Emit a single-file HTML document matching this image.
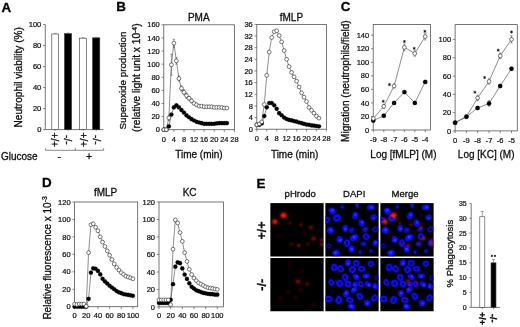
<!DOCTYPE html>
<html><head><meta charset="utf-8"><title>Figure</title>
<style>
html,body{margin:0;padding:0;background:#fff;}
body{width:520px;height:327px;overflow:hidden;font-family:"Liberation Sans",sans-serif;}
svg{display:block;}
</style></head><body>
<svg width="520" height="327" viewBox="0 0 520 327" font-family="Liberation Sans, sans-serif">
<defs><filter id="soft" x="0" y="0" width="100%" height="100%" filterUnits="userSpaceOnUse"><feGaussianBlur stdDeviation="0.35"/></filter></defs>
<rect width="520" height="327" fill="#fff"/>
<g filter="url(#soft)">
<text x="1.50" y="11.60" font-size="13.4" text-anchor="start" font-weight="bold" fill="#000" stroke="#000" stroke-width="0.3" >A</text>
<line x1="45.30" y1="24.50" x2="45.30" y2="129.60" stroke="#555" stroke-width="0.8"/>
<line x1="45.30" y1="129.60" x2="103.50" y2="129.60" stroke="#555" stroke-width="0.8"/>
<line x1="43.10" y1="129.60" x2="45.30" y2="129.60" stroke="#555" stroke-width="0.7"/>
<text x="41.30" y="132.20" font-size="7.5" text-anchor="end" font-weight="normal" fill="#111" stroke="#111" stroke-width="0.22" >0</text>
<line x1="43.10" y1="108.58" x2="45.30" y2="108.58" stroke="#555" stroke-width="0.7"/>
<text x="41.30" y="111.18" font-size="7.5" text-anchor="end" font-weight="normal" fill="#111" stroke="#111" stroke-width="0.22" >20</text>
<line x1="43.10" y1="87.56" x2="45.30" y2="87.56" stroke="#555" stroke-width="0.7"/>
<text x="41.30" y="90.16" font-size="7.5" text-anchor="end" font-weight="normal" fill="#111" stroke="#111" stroke-width="0.22" >40</text>
<line x1="43.10" y1="66.54" x2="45.30" y2="66.54" stroke="#555" stroke-width="0.7"/>
<text x="41.30" y="69.14" font-size="7.5" text-anchor="end" font-weight="normal" fill="#111" stroke="#111" stroke-width="0.22" >60</text>
<line x1="43.10" y1="45.52" x2="45.30" y2="45.52" stroke="#555" stroke-width="0.7"/>
<text x="41.30" y="48.12" font-size="7.5" text-anchor="end" font-weight="normal" fill="#111" stroke="#111" stroke-width="0.22" >80</text>
<line x1="43.10" y1="24.50" x2="45.30" y2="24.50" stroke="#555" stroke-width="0.7"/>
<text x="41.30" y="27.10" font-size="7.5" text-anchor="end" font-weight="normal" fill="#111" stroke="#111" stroke-width="0.22" >100</text>
<rect x="51.8" y="33.96" width="6.70" height="95.64" fill="#fff" stroke="#333" stroke-width="0.6"/>
<line x1="53.65" y1="33.36" x2="56.65" y2="33.36" stroke="#555" stroke-width="0.5"/>
<rect x="64.5" y="33.64" width="7.10" height="95.96" fill="#000" stroke="#333" stroke-width="0.6"/>
<line x1="66.55" y1="33.04" x2="69.55" y2="33.04" stroke="#555" stroke-width="0.5"/>
<rect x="79.6" y="38.16" width="7.00" height="91.44" fill="#fff" stroke="#333" stroke-width="0.6"/>
<line x1="81.60" y1="37.56" x2="84.60" y2="37.56" stroke="#555" stroke-width="0.5"/>
<rect x="92.6" y="37.85" width="7.20" height="91.75" fill="#000" stroke="#333" stroke-width="0.6"/>
<line x1="94.70" y1="37.25" x2="97.70" y2="37.25" stroke="#555" stroke-width="0.5"/>
<line x1="55.10" y1="129.60" x2="55.10" y2="130.90" stroke="#555" stroke-width="0.6"/>
<line x1="68.00" y1="129.60" x2="68.00" y2="130.90" stroke="#555" stroke-width="0.6"/>
<line x1="83.10" y1="129.60" x2="83.10" y2="130.90" stroke="#555" stroke-width="0.6"/>
<line x1="96.20" y1="129.60" x2="96.20" y2="130.90" stroke="#555" stroke-width="0.6"/>
<text x="51.40" y="139.80" font-size="10" text-anchor="middle" font-weight="normal" fill="#111" stroke="#111" stroke-width="0.3" transform="rotate(90 51.40 139.80)" stroke="#111" stroke-width="0.25">+/+</text>
<text x="64.20" y="139.80" font-size="10" text-anchor="middle" font-weight="normal" fill="#111" stroke="#111" stroke-width="0.3" transform="rotate(90 64.20 139.80)" stroke="#111" stroke-width="0.25">-/-</text>
<text x="79.60" y="139.80" font-size="10" text-anchor="middle" font-weight="normal" fill="#111" stroke="#111" stroke-width="0.3" transform="rotate(90 79.60 139.80)" stroke="#111" stroke-width="0.25">+/+</text>
<text x="93.10" y="139.80" font-size="10" text-anchor="middle" font-weight="normal" fill="#111" stroke="#111" stroke-width="0.3" transform="rotate(90 93.10 139.80)" stroke="#111" stroke-width="0.25">-/-</text>
<line x1="45.60" y1="150.30" x2="103.60" y2="150.30" stroke="#555" stroke-width="0.7"/>
<line x1="45.60" y1="148.20" x2="45.60" y2="150.30" stroke="#555" stroke-width="0.7"/>
<line x1="75.30" y1="148.20" x2="75.30" y2="150.30" stroke="#555" stroke-width="0.7"/>
<line x1="103.60" y1="148.20" x2="103.60" y2="150.30" stroke="#555" stroke-width="0.7"/>
<text x="1.00" y="159.50" font-size="10" text-anchor="start" font-weight="normal" fill="#111" stroke="#111" stroke-width="0.3" >Glucose</text>
<text x="59.20" y="159.50" font-size="10.5" text-anchor="middle" font-weight="normal" fill="#111" stroke="#111" stroke-width="0.3" >-</text>
<text x="89.10" y="160.00" font-size="10.5" text-anchor="middle" font-weight="normal" fill="#111" stroke="#111" stroke-width="0.3" >+</text>
<text x="21.60" y="127.50" font-size="10.1" text-anchor="start" font-weight="normal" fill="#111" stroke="#111" stroke-width="0.3" transform="rotate(-90 21.60 127.50)" >Neutrophil viability (%)</text>
<text x="116.30" y="11.20" font-size="13.4" text-anchor="start" font-weight="bold" fill="#000" stroke="#000" stroke-width="0.3" >B</text>
<rect x="163.8" y="24.8" width="70.60" height="104.90" fill="none" stroke="#555" stroke-width="0.8"/>
<text x="198.80" y="20.60" font-size="10" text-anchor="middle" font-weight="normal" fill="#111" stroke="#111" stroke-width="0.3" >PMA</text>
<line x1="161.60" y1="129.70" x2="163.80" y2="129.70" stroke="#555" stroke-width="0.7"/>
<text x="159.80" y="132.30" font-size="7.5" text-anchor="end" font-weight="normal" fill="#111" stroke="#111" stroke-width="0.22" >0</text>
<line x1="161.60" y1="116.59" x2="163.80" y2="116.59" stroke="#555" stroke-width="0.7"/>
<text x="159.80" y="119.19" font-size="7.5" text-anchor="end" font-weight="normal" fill="#111" stroke="#111" stroke-width="0.22" >20</text>
<line x1="161.60" y1="103.47" x2="163.80" y2="103.47" stroke="#555" stroke-width="0.7"/>
<text x="159.80" y="106.07" font-size="7.5" text-anchor="end" font-weight="normal" fill="#111" stroke="#111" stroke-width="0.22" >40</text>
<line x1="161.60" y1="90.36" x2="163.80" y2="90.36" stroke="#555" stroke-width="0.7"/>
<text x="159.80" y="92.96" font-size="7.5" text-anchor="end" font-weight="normal" fill="#111" stroke="#111" stroke-width="0.22" >60</text>
<line x1="161.60" y1="77.25" x2="163.80" y2="77.25" stroke="#555" stroke-width="0.7"/>
<text x="159.80" y="79.85" font-size="7.5" text-anchor="end" font-weight="normal" fill="#111" stroke="#111" stroke-width="0.22" >80</text>
<line x1="161.60" y1="64.14" x2="163.80" y2="64.14" stroke="#555" stroke-width="0.7"/>
<text x="159.80" y="66.74" font-size="7.5" text-anchor="end" font-weight="normal" fill="#111" stroke="#111" stroke-width="0.22" >100</text>
<line x1="161.60" y1="51.03" x2="163.80" y2="51.03" stroke="#555" stroke-width="0.7"/>
<text x="159.80" y="53.63" font-size="7.5" text-anchor="end" font-weight="normal" fill="#111" stroke="#111" stroke-width="0.22" >120</text>
<line x1="161.60" y1="37.91" x2="163.80" y2="37.91" stroke="#555" stroke-width="0.7"/>
<text x="159.80" y="40.51" font-size="7.5" text-anchor="end" font-weight="normal" fill="#111" stroke="#111" stroke-width="0.22" >140</text>
<line x1="161.60" y1="24.80" x2="163.80" y2="24.80" stroke="#555" stroke-width="0.7"/>
<text x="159.80" y="27.40" font-size="7.5" text-anchor="end" font-weight="normal" fill="#111" stroke="#111" stroke-width="0.22" >160</text>
<line x1="163.80" y1="129.70" x2="163.80" y2="131.90" stroke="#555" stroke-width="0.7"/>
<text x="163.80" y="141.70" font-size="7.5" text-anchor="middle" font-weight="normal" fill="#111" stroke="#111" stroke-width="0.22" >0</text>
<line x1="173.89" y1="129.70" x2="173.89" y2="131.90" stroke="#555" stroke-width="0.7"/>
<text x="173.89" y="141.70" font-size="7.5" text-anchor="middle" font-weight="normal" fill="#111" stroke="#111" stroke-width="0.22" >4</text>
<line x1="183.97" y1="129.70" x2="183.97" y2="131.90" stroke="#555" stroke-width="0.7"/>
<text x="183.97" y="141.70" font-size="7.5" text-anchor="middle" font-weight="normal" fill="#111" stroke="#111" stroke-width="0.22" >8</text>
<line x1="194.06" y1="129.70" x2="194.06" y2="131.90" stroke="#555" stroke-width="0.7"/>
<text x="194.06" y="141.70" font-size="7.5" text-anchor="middle" font-weight="normal" fill="#111" stroke="#111" stroke-width="0.22" >12</text>
<line x1="204.14" y1="129.70" x2="204.14" y2="131.90" stroke="#555" stroke-width="0.7"/>
<text x="204.14" y="141.70" font-size="7.5" text-anchor="middle" font-weight="normal" fill="#111" stroke="#111" stroke-width="0.22" >16</text>
<line x1="214.23" y1="129.70" x2="214.23" y2="131.90" stroke="#555" stroke-width="0.7"/>
<text x="214.23" y="141.70" font-size="7.5" text-anchor="middle" font-weight="normal" fill="#111" stroke="#111" stroke-width="0.22" >20</text>
<line x1="224.31" y1="129.70" x2="224.31" y2="131.90" stroke="#555" stroke-width="0.7"/>
<text x="224.31" y="141.70" font-size="7.5" text-anchor="middle" font-weight="normal" fill="#111" stroke="#111" stroke-width="0.22" >24</text>
<line x1="234.40" y1="129.70" x2="234.40" y2="131.90" stroke="#555" stroke-width="0.7"/>
<text x="234.40" y="141.70" font-size="7.5" text-anchor="middle" font-weight="normal" fill="#111" stroke="#111" stroke-width="0.22" >28</text>
<text x="198.90" y="158.10" font-size="10" text-anchor="middle" font-weight="normal" fill="#111" stroke="#111" stroke-width="0.3" >Time (min)</text>
<line x1="168.84" y1="115.28" x2="168.84" y2="120.52" stroke="#444" stroke-width="0.5"/>
<line x1="167.64" y1="115.28" x2="170.04" y2="115.28" stroke="#444" stroke-width="0.5"/>
<line x1="167.64" y1="120.52" x2="170.04" y2="120.52" stroke="#444" stroke-width="0.5"/>
<line x1="171.36" y1="54.30" x2="171.36" y2="75.28" stroke="#444" stroke-width="0.5"/>
<line x1="170.16" y1="54.30" x2="172.56" y2="54.30" stroke="#444" stroke-width="0.5"/>
<line x1="170.16" y1="75.28" x2="172.56" y2="75.28" stroke="#444" stroke-width="0.5"/>
<line x1="173.89" y1="39.22" x2="173.89" y2="47.09" stroke="#444" stroke-width="0.5"/>
<line x1="172.69" y1="39.22" x2="175.09" y2="39.22" stroke="#444" stroke-width="0.5"/>
<line x1="172.69" y1="47.09" x2="175.09" y2="47.09" stroke="#444" stroke-width="0.5"/>
<line x1="176.41" y1="57.58" x2="176.41" y2="64.14" stroke="#444" stroke-width="0.5"/>
<line x1="175.21" y1="57.58" x2="177.61" y2="57.58" stroke="#444" stroke-width="0.5"/>
<line x1="175.21" y1="64.14" x2="177.61" y2="64.14" stroke="#444" stroke-width="0.5"/>
<line x1="178.93" y1="75.94" x2="178.93" y2="81.18" stroke="#444" stroke-width="0.5"/>
<line x1="177.73" y1="75.94" x2="180.13" y2="75.94" stroke="#444" stroke-width="0.5"/>
<line x1="177.73" y1="81.18" x2="180.13" y2="81.18" stroke="#444" stroke-width="0.5"/>
<line x1="181.45" y1="85.77" x2="181.45" y2="91.02" stroke="#444" stroke-width="0.5"/>
<line x1="180.25" y1="85.77" x2="182.65" y2="85.77" stroke="#444" stroke-width="0.5"/>
<line x1="180.25" y1="91.02" x2="182.65" y2="91.02" stroke="#444" stroke-width="0.5"/>
<line x1="183.97" y1="89.71" x2="183.97" y2="94.95" stroke="#444" stroke-width="0.5"/>
<line x1="182.77" y1="89.71" x2="185.17" y2="89.71" stroke="#444" stroke-width="0.5"/>
<line x1="182.77" y1="94.95" x2="185.17" y2="94.95" stroke="#444" stroke-width="0.5"/>
<line x1="186.49" y1="92.98" x2="186.49" y2="98.23" stroke="#444" stroke-width="0.5"/>
<line x1="185.29" y1="92.98" x2="187.69" y2="92.98" stroke="#444" stroke-width="0.5"/>
<line x1="185.29" y1="98.23" x2="187.69" y2="98.23" stroke="#444" stroke-width="0.5"/>
<line x1="189.01" y1="96.26" x2="189.01" y2="100.20" stroke="#444" stroke-width="0.5"/>
<line x1="187.81" y1="96.26" x2="190.21" y2="96.26" stroke="#444" stroke-width="0.5"/>
<line x1="187.81" y1="100.20" x2="190.21" y2="100.20" stroke="#444" stroke-width="0.5"/>
<line x1="191.54" y1="98.89" x2="191.54" y2="102.82" stroke="#444" stroke-width="0.5"/>
<line x1="190.34" y1="98.89" x2="192.74" y2="98.89" stroke="#444" stroke-width="0.5"/>
<line x1="190.34" y1="102.82" x2="192.74" y2="102.82" stroke="#444" stroke-width="0.5"/>
<polyline fill="none" stroke="#444" stroke-width="0.6" points="163.80,129.70 166.32,129.70 168.84,126.42 171.36,114.62 173.89,107.41 176.41,105.44 178.93,107.41 181.45,110.03 183.97,112.65 186.49,115.28 189.01,117.24 191.54,119.21 194.06,120.52 196.58,121.83 199.10,122.49 201.62,123.14 204.14,123.80 206.66,123.80 209.19,123.80 211.71,123.80 214.23,123.80 216.75,123.47 219.27,123.14 221.79,123.14 224.31,123.14 226.84,123.14"/>
<polyline fill="none" stroke="#444" stroke-width="0.6" points="163.80,129.70 166.32,129.70 168.84,117.90 171.36,64.79 173.89,43.16 176.41,60.86 178.93,78.56 181.45,88.40 183.97,92.33 186.49,95.61 189.01,98.23 191.54,100.85 194.06,103.47 196.58,104.79 199.10,106.10 201.62,106.10 204.14,106.75 206.66,106.75 209.19,106.75 211.71,106.75 214.23,107.41 216.75,107.41 219.27,107.41 221.79,107.41 224.31,108.06 226.84,108.06"/>
<circle cx="163.80" cy="129.70" r="2.1" fill="#000" stroke="#222" stroke-width="0.2"/>
<circle cx="166.32" cy="129.70" r="2.1" fill="#000" stroke="#222" stroke-width="0.2"/>
<circle cx="168.84" cy="126.42" r="2.1" fill="#000" stroke="#222" stroke-width="0.2"/>
<circle cx="171.36" cy="114.62" r="2.1" fill="#000" stroke="#222" stroke-width="0.2"/>
<circle cx="173.89" cy="107.41" r="2.1" fill="#000" stroke="#222" stroke-width="0.2"/>
<circle cx="176.41" cy="105.44" r="2.1" fill="#000" stroke="#222" stroke-width="0.2"/>
<circle cx="178.93" cy="107.41" r="2.1" fill="#000" stroke="#222" stroke-width="0.2"/>
<circle cx="181.45" cy="110.03" r="2.1" fill="#000" stroke="#222" stroke-width="0.2"/>
<circle cx="183.97" cy="112.65" r="2.1" fill="#000" stroke="#222" stroke-width="0.2"/>
<circle cx="186.49" cy="115.28" r="2.1" fill="#000" stroke="#222" stroke-width="0.2"/>
<circle cx="189.01" cy="117.24" r="2.1" fill="#000" stroke="#222" stroke-width="0.2"/>
<circle cx="191.54" cy="119.21" r="2.1" fill="#000" stroke="#222" stroke-width="0.2"/>
<circle cx="194.06" cy="120.52" r="2.1" fill="#000" stroke="#222" stroke-width="0.2"/>
<circle cx="196.58" cy="121.83" r="2.1" fill="#000" stroke="#222" stroke-width="0.2"/>
<circle cx="199.10" cy="122.49" r="2.1" fill="#000" stroke="#222" stroke-width="0.2"/>
<circle cx="201.62" cy="123.14" r="2.1" fill="#000" stroke="#222" stroke-width="0.2"/>
<circle cx="204.14" cy="123.80" r="2.1" fill="#000" stroke="#222" stroke-width="0.2"/>
<circle cx="206.66" cy="123.80" r="2.1" fill="#000" stroke="#222" stroke-width="0.2"/>
<circle cx="209.19" cy="123.80" r="2.1" fill="#000" stroke="#222" stroke-width="0.2"/>
<circle cx="211.71" cy="123.80" r="2.1" fill="#000" stroke="#222" stroke-width="0.2"/>
<circle cx="214.23" cy="123.80" r="2.1" fill="#000" stroke="#222" stroke-width="0.2"/>
<circle cx="216.75" cy="123.47" r="2.1" fill="#000" stroke="#222" stroke-width="0.2"/>
<circle cx="219.27" cy="123.14" r="2.1" fill="#000" stroke="#222" stroke-width="0.2"/>
<circle cx="221.79" cy="123.14" r="2.1" fill="#000" stroke="#222" stroke-width="0.2"/>
<circle cx="224.31" cy="123.14" r="2.1" fill="#000" stroke="#222" stroke-width="0.2"/>
<circle cx="226.84" cy="123.14" r="2.1" fill="#000" stroke="#222" stroke-width="0.2"/>
<circle cx="163.80" cy="129.70" r="1.9" fill="#fff" stroke="#222" stroke-width="0.6"/>
<circle cx="166.32" cy="129.70" r="1.9" fill="#fff" stroke="#222" stroke-width="0.6"/>
<circle cx="168.84" cy="117.90" r="1.9" fill="#fff" stroke="#222" stroke-width="0.6"/>
<circle cx="171.36" cy="64.79" r="1.9" fill="#fff" stroke="#222" stroke-width="0.6"/>
<circle cx="173.89" cy="43.16" r="1.9" fill="#fff" stroke="#222" stroke-width="0.6"/>
<circle cx="176.41" cy="60.86" r="1.9" fill="#fff" stroke="#222" stroke-width="0.6"/>
<circle cx="178.93" cy="78.56" r="1.9" fill="#fff" stroke="#222" stroke-width="0.6"/>
<circle cx="181.45" cy="88.40" r="1.9" fill="#fff" stroke="#222" stroke-width="0.6"/>
<circle cx="183.97" cy="92.33" r="1.9" fill="#fff" stroke="#222" stroke-width="0.6"/>
<circle cx="186.49" cy="95.61" r="1.9" fill="#fff" stroke="#222" stroke-width="0.6"/>
<circle cx="189.01" cy="98.23" r="1.9" fill="#fff" stroke="#222" stroke-width="0.6"/>
<circle cx="191.54" cy="100.85" r="1.9" fill="#fff" stroke="#222" stroke-width="0.6"/>
<circle cx="194.06" cy="103.47" r="1.9" fill="#fff" stroke="#222" stroke-width="0.6"/>
<circle cx="196.58" cy="104.79" r="1.9" fill="#fff" stroke="#222" stroke-width="0.6"/>
<circle cx="199.10" cy="106.10" r="1.9" fill="#fff" stroke="#222" stroke-width="0.6"/>
<circle cx="201.62" cy="106.10" r="1.9" fill="#fff" stroke="#222" stroke-width="0.6"/>
<circle cx="204.14" cy="106.75" r="1.9" fill="#fff" stroke="#222" stroke-width="0.6"/>
<circle cx="206.66" cy="106.75" r="1.9" fill="#fff" stroke="#222" stroke-width="0.6"/>
<circle cx="209.19" cy="106.75" r="1.9" fill="#fff" stroke="#222" stroke-width="0.6"/>
<circle cx="211.71" cy="106.75" r="1.9" fill="#fff" stroke="#222" stroke-width="0.6"/>
<circle cx="214.23" cy="107.41" r="1.9" fill="#fff" stroke="#222" stroke-width="0.6"/>
<circle cx="216.75" cy="107.41" r="1.9" fill="#fff" stroke="#222" stroke-width="0.6"/>
<circle cx="219.27" cy="107.41" r="1.9" fill="#fff" stroke="#222" stroke-width="0.6"/>
<circle cx="221.79" cy="107.41" r="1.9" fill="#fff" stroke="#222" stroke-width="0.6"/>
<circle cx="224.31" cy="108.06" r="1.9" fill="#fff" stroke="#222" stroke-width="0.6"/>
<circle cx="226.84" cy="108.06" r="1.9" fill="#fff" stroke="#222" stroke-width="0.6"/>
<text x="125.80" y="129.60" font-size="9.8" text-anchor="start" font-weight="normal" fill="#111" stroke="#111" stroke-width="0.3" transform="rotate(-90 125.80 129.60)" >Superoxide production</text>
<text x="140.00" y="132.00" font-size="10.2" text-anchor="start" font-weight="normal" fill="#111" stroke="#111" stroke-width="0.3" transform="rotate(-90 140.00 132.00)" >(relative light unit x 10<tspan dy="-3.5" font-size="6.8">-4</tspan><tspan dy="3.5">)</tspan></text>
<rect x="256.8" y="24.4" width="69.60" height="104.80" fill="none" stroke="#555" stroke-width="0.8"/>
<text x="291.40" y="20.60" font-size="10" text-anchor="middle" font-weight="normal" fill="#111" stroke="#111" stroke-width="0.3" >fMLP</text>
<line x1="254.60" y1="129.20" x2="256.80" y2="129.20" stroke="#555" stroke-width="0.7"/>
<text x="252.80" y="131.80" font-size="7.5" text-anchor="end" font-weight="normal" fill="#111" stroke="#111" stroke-width="0.22" >0</text>
<line x1="254.60" y1="117.56" x2="256.80" y2="117.56" stroke="#555" stroke-width="0.7"/>
<text x="252.80" y="120.16" font-size="7.5" text-anchor="end" font-weight="normal" fill="#111" stroke="#111" stroke-width="0.22" >4</text>
<line x1="254.60" y1="105.91" x2="256.80" y2="105.91" stroke="#555" stroke-width="0.7"/>
<text x="252.80" y="108.51" font-size="7.5" text-anchor="end" font-weight="normal" fill="#111" stroke="#111" stroke-width="0.22" >8</text>
<line x1="254.60" y1="94.27" x2="256.80" y2="94.27" stroke="#555" stroke-width="0.7"/>
<text x="252.80" y="96.87" font-size="7.5" text-anchor="end" font-weight="normal" fill="#111" stroke="#111" stroke-width="0.22" >12</text>
<line x1="254.60" y1="82.62" x2="256.80" y2="82.62" stroke="#555" stroke-width="0.7"/>
<text x="252.80" y="85.22" font-size="7.5" text-anchor="end" font-weight="normal" fill="#111" stroke="#111" stroke-width="0.22" >16</text>
<line x1="254.60" y1="70.98" x2="256.80" y2="70.98" stroke="#555" stroke-width="0.7"/>
<text x="252.80" y="73.58" font-size="7.5" text-anchor="end" font-weight="normal" fill="#111" stroke="#111" stroke-width="0.22" >20</text>
<line x1="254.60" y1="59.33" x2="256.80" y2="59.33" stroke="#555" stroke-width="0.7"/>
<text x="252.80" y="61.93" font-size="7.5" text-anchor="end" font-weight="normal" fill="#111" stroke="#111" stroke-width="0.22" >24</text>
<line x1="254.60" y1="47.69" x2="256.80" y2="47.69" stroke="#555" stroke-width="0.7"/>
<text x="252.80" y="50.29" font-size="7.5" text-anchor="end" font-weight="normal" fill="#111" stroke="#111" stroke-width="0.22" >28</text>
<line x1="254.60" y1="36.04" x2="256.80" y2="36.04" stroke="#555" stroke-width="0.7"/>
<text x="252.80" y="38.64" font-size="7.5" text-anchor="end" font-weight="normal" fill="#111" stroke="#111" stroke-width="0.22" >32</text>
<line x1="254.60" y1="24.40" x2="256.80" y2="24.40" stroke="#555" stroke-width="0.7"/>
<text x="252.80" y="27.00" font-size="7.5" text-anchor="end" font-weight="normal" fill="#111" stroke="#111" stroke-width="0.22" >36</text>
<line x1="256.80" y1="129.20" x2="256.80" y2="131.40" stroke="#555" stroke-width="0.7"/>
<text x="256.80" y="141.20" font-size="7.5" text-anchor="middle" font-weight="normal" fill="#111" stroke="#111" stroke-width="0.22" >0</text>
<line x1="266.74" y1="129.20" x2="266.74" y2="131.40" stroke="#555" stroke-width="0.7"/>
<text x="266.74" y="141.20" font-size="7.5" text-anchor="middle" font-weight="normal" fill="#111" stroke="#111" stroke-width="0.22" >4</text>
<line x1="276.69" y1="129.20" x2="276.69" y2="131.40" stroke="#555" stroke-width="0.7"/>
<text x="276.69" y="141.20" font-size="7.5" text-anchor="middle" font-weight="normal" fill="#111" stroke="#111" stroke-width="0.22" >8</text>
<line x1="286.63" y1="129.20" x2="286.63" y2="131.40" stroke="#555" stroke-width="0.7"/>
<text x="286.63" y="141.20" font-size="7.5" text-anchor="middle" font-weight="normal" fill="#111" stroke="#111" stroke-width="0.22" >12</text>
<line x1="296.57" y1="129.20" x2="296.57" y2="131.40" stroke="#555" stroke-width="0.7"/>
<text x="296.57" y="141.20" font-size="7.5" text-anchor="middle" font-weight="normal" fill="#111" stroke="#111" stroke-width="0.22" >16</text>
<line x1="306.51" y1="129.20" x2="306.51" y2="131.40" stroke="#555" stroke-width="0.7"/>
<text x="306.51" y="141.20" font-size="7.5" text-anchor="middle" font-weight="normal" fill="#111" stroke="#111" stroke-width="0.22" >20</text>
<line x1="316.46" y1="129.20" x2="316.46" y2="131.40" stroke="#555" stroke-width="0.7"/>
<text x="316.46" y="141.20" font-size="7.5" text-anchor="middle" font-weight="normal" fill="#111" stroke="#111" stroke-width="0.22" >24</text>
<line x1="326.40" y1="129.20" x2="326.40" y2="131.40" stroke="#555" stroke-width="0.7"/>
<text x="326.40" y="141.20" font-size="7.5" text-anchor="middle" font-weight="normal" fill="#111" stroke="#111" stroke-width="0.22" >28</text>
<text x="294.60" y="158.10" font-size="10" text-anchor="middle" font-weight="normal" fill="#111" stroke="#111" stroke-width="0.3" >Time (min)</text>
<polyline fill="none" stroke="#444" stroke-width="0.6" points="256.80,124.83 259.29,124.83 261.77,123.38 264.26,116.10 266.74,107.37 269.23,103.00 271.71,103.00 274.20,105.33 276.69,108.82 279.17,113.19 281.66,115.23 284.14,117.56 286.63,119.01 289.11,119.88 291.60,120.47 294.09,121.05 296.57,121.63 299.06,122.50 301.54,123.09 304.03,123.96 306.51,124.54 309.00,124.83 311.49,125.42 313.97,125.71 316.46,126.00 318.94,126.29"/>
<polyline fill="none" stroke="#444" stroke-width="0.6" points="256.80,124.83 259.29,123.96 261.77,121.92 264.26,104.46 266.74,75.34 269.23,52.06 271.71,37.50 274.20,31.68 276.69,30.80 279.17,35.46 281.66,41.87 284.14,50.60 286.63,59.33 289.11,66.61 291.60,72.43 294.09,76.80 296.57,81.17 299.06,86.99 301.54,92.81 304.03,97.18 306.51,101.54 309.00,107.37 311.49,110.28 313.97,113.19 316.46,116.10 318.94,118.14"/>
<circle cx="256.80" cy="124.83" r="2.1" fill="#000" stroke="#222" stroke-width="0.2"/>
<circle cx="259.29" cy="124.83" r="2.1" fill="#000" stroke="#222" stroke-width="0.2"/>
<circle cx="261.77" cy="123.38" r="2.1" fill="#000" stroke="#222" stroke-width="0.2"/>
<circle cx="264.26" cy="116.10" r="2.1" fill="#000" stroke="#222" stroke-width="0.2"/>
<circle cx="266.74" cy="107.37" r="2.1" fill="#000" stroke="#222" stroke-width="0.2"/>
<circle cx="269.23" cy="103.00" r="2.1" fill="#000" stroke="#222" stroke-width="0.2"/>
<circle cx="271.71" cy="103.00" r="2.1" fill="#000" stroke="#222" stroke-width="0.2"/>
<circle cx="274.20" cy="105.33" r="2.1" fill="#000" stroke="#222" stroke-width="0.2"/>
<circle cx="276.69" cy="108.82" r="2.1" fill="#000" stroke="#222" stroke-width="0.2"/>
<circle cx="279.17" cy="113.19" r="2.1" fill="#000" stroke="#222" stroke-width="0.2"/>
<circle cx="281.66" cy="115.23" r="2.1" fill="#000" stroke="#222" stroke-width="0.2"/>
<circle cx="284.14" cy="117.56" r="2.1" fill="#000" stroke="#222" stroke-width="0.2"/>
<circle cx="286.63" cy="119.01" r="2.1" fill="#000" stroke="#222" stroke-width="0.2"/>
<circle cx="289.11" cy="119.88" r="2.1" fill="#000" stroke="#222" stroke-width="0.2"/>
<circle cx="291.60" cy="120.47" r="2.1" fill="#000" stroke="#222" stroke-width="0.2"/>
<circle cx="294.09" cy="121.05" r="2.1" fill="#000" stroke="#222" stroke-width="0.2"/>
<circle cx="296.57" cy="121.63" r="2.1" fill="#000" stroke="#222" stroke-width="0.2"/>
<circle cx="299.06" cy="122.50" r="2.1" fill="#000" stroke="#222" stroke-width="0.2"/>
<circle cx="301.54" cy="123.09" r="2.1" fill="#000" stroke="#222" stroke-width="0.2"/>
<circle cx="304.03" cy="123.96" r="2.1" fill="#000" stroke="#222" stroke-width="0.2"/>
<circle cx="306.51" cy="124.54" r="2.1" fill="#000" stroke="#222" stroke-width="0.2"/>
<circle cx="309.00" cy="124.83" r="2.1" fill="#000" stroke="#222" stroke-width="0.2"/>
<circle cx="311.49" cy="125.42" r="2.1" fill="#000" stroke="#222" stroke-width="0.2"/>
<circle cx="313.97" cy="125.71" r="2.1" fill="#000" stroke="#222" stroke-width="0.2"/>
<circle cx="316.46" cy="126.00" r="2.1" fill="#000" stroke="#222" stroke-width="0.2"/>
<circle cx="318.94" cy="126.29" r="2.1" fill="#000" stroke="#222" stroke-width="0.2"/>
<circle cx="256.80" cy="124.83" r="1.9" fill="#fff" stroke="#222" stroke-width="0.6"/>
<circle cx="259.29" cy="123.96" r="1.9" fill="#fff" stroke="#222" stroke-width="0.6"/>
<circle cx="261.77" cy="121.92" r="1.9" fill="#fff" stroke="#222" stroke-width="0.6"/>
<circle cx="264.26" cy="104.46" r="1.9" fill="#fff" stroke="#222" stroke-width="0.6"/>
<circle cx="266.74" cy="75.34" r="1.9" fill="#fff" stroke="#222" stroke-width="0.6"/>
<circle cx="269.23" cy="52.06" r="1.9" fill="#fff" stroke="#222" stroke-width="0.6"/>
<circle cx="271.71" cy="37.50" r="1.9" fill="#fff" stroke="#222" stroke-width="0.6"/>
<circle cx="274.20" cy="31.68" r="1.9" fill="#fff" stroke="#222" stroke-width="0.6"/>
<circle cx="276.69" cy="30.80" r="1.9" fill="#fff" stroke="#222" stroke-width="0.6"/>
<circle cx="279.17" cy="35.46" r="1.9" fill="#fff" stroke="#222" stroke-width="0.6"/>
<circle cx="281.66" cy="41.87" r="1.9" fill="#fff" stroke="#222" stroke-width="0.6"/>
<circle cx="284.14" cy="50.60" r="1.9" fill="#fff" stroke="#222" stroke-width="0.6"/>
<circle cx="286.63" cy="59.33" r="1.9" fill="#fff" stroke="#222" stroke-width="0.6"/>
<circle cx="289.11" cy="66.61" r="1.9" fill="#fff" stroke="#222" stroke-width="0.6"/>
<circle cx="291.60" cy="72.43" r="1.9" fill="#fff" stroke="#222" stroke-width="0.6"/>
<circle cx="294.09" cy="76.80" r="1.9" fill="#fff" stroke="#222" stroke-width="0.6"/>
<circle cx="296.57" cy="81.17" r="1.9" fill="#fff" stroke="#222" stroke-width="0.6"/>
<circle cx="299.06" cy="86.99" r="1.9" fill="#fff" stroke="#222" stroke-width="0.6"/>
<circle cx="301.54" cy="92.81" r="1.9" fill="#fff" stroke="#222" stroke-width="0.6"/>
<circle cx="304.03" cy="97.18" r="1.9" fill="#fff" stroke="#222" stroke-width="0.6"/>
<circle cx="306.51" cy="101.54" r="1.9" fill="#fff" stroke="#222" stroke-width="0.6"/>
<circle cx="309.00" cy="107.37" r="1.9" fill="#fff" stroke="#222" stroke-width="0.6"/>
<circle cx="311.49" cy="110.28" r="1.9" fill="#fff" stroke="#222" stroke-width="0.6"/>
<circle cx="313.97" cy="113.19" r="1.9" fill="#fff" stroke="#222" stroke-width="0.6"/>
<circle cx="316.46" cy="116.10" r="1.9" fill="#fff" stroke="#222" stroke-width="0.6"/>
<circle cx="318.94" cy="118.14" r="1.9" fill="#fff" stroke="#222" stroke-width="0.6"/>
<text x="340.80" y="10.80" font-size="13.4" text-anchor="start" font-weight="bold" fill="#000" stroke="#000" stroke-width="0.3" >C</text>
<rect x="373.2" y="24.5" width="57.20" height="105.50" fill="none" stroke="#555" stroke-width="0.8"/>
<line x1="371.00" y1="130.00" x2="373.20" y2="130.00" stroke="#555" stroke-width="0.7"/>
<text x="369.20" y="132.60" font-size="7.5" text-anchor="end" font-weight="normal" fill="#111" stroke="#111" stroke-width="0.22" >0</text>
<line x1="371.00" y1="116.46" x2="373.20" y2="116.46" stroke="#555" stroke-width="0.7"/>
<text x="369.20" y="119.06" font-size="7.5" text-anchor="end" font-weight="normal" fill="#111" stroke="#111" stroke-width="0.22" >20</text>
<line x1="371.00" y1="102.91" x2="373.20" y2="102.91" stroke="#555" stroke-width="0.7"/>
<text x="369.20" y="105.51" font-size="7.5" text-anchor="end" font-weight="normal" fill="#111" stroke="#111" stroke-width="0.22" >40</text>
<line x1="371.00" y1="89.37" x2="373.20" y2="89.37" stroke="#555" stroke-width="0.7"/>
<text x="369.20" y="91.97" font-size="7.5" text-anchor="end" font-weight="normal" fill="#111" stroke="#111" stroke-width="0.22" >60</text>
<line x1="371.00" y1="75.83" x2="373.20" y2="75.83" stroke="#555" stroke-width="0.7"/>
<text x="369.20" y="78.43" font-size="7.5" text-anchor="end" font-weight="normal" fill="#111" stroke="#111" stroke-width="0.22" >80</text>
<line x1="371.00" y1="62.29" x2="373.20" y2="62.29" stroke="#555" stroke-width="0.7"/>
<text x="369.20" y="64.89" font-size="7.5" text-anchor="end" font-weight="normal" fill="#111" stroke="#111" stroke-width="0.22" >100</text>
<line x1="371.00" y1="48.74" x2="373.20" y2="48.74" stroke="#555" stroke-width="0.7"/>
<text x="369.20" y="51.34" font-size="7.5" text-anchor="end" font-weight="normal" fill="#111" stroke="#111" stroke-width="0.22" >120</text>
<line x1="371.00" y1="35.20" x2="373.20" y2="35.20" stroke="#555" stroke-width="0.7"/>
<text x="369.20" y="37.80" font-size="7.5" text-anchor="end" font-weight="normal" fill="#111" stroke="#111" stroke-width="0.22" >140</text>
<line x1="373.30" y1="130.00" x2="373.30" y2="132.20" stroke="#555" stroke-width="0.7"/>
<text x="373.30" y="142.00" font-size="7.5" text-anchor="middle" font-weight="normal" fill="#111" stroke="#111" stroke-width="0.22" >-9</text>
<line x1="383.80" y1="130.00" x2="383.80" y2="132.20" stroke="#555" stroke-width="0.7"/>
<text x="383.80" y="142.00" font-size="7.5" text-anchor="middle" font-weight="normal" fill="#111" stroke="#111" stroke-width="0.22" >-8</text>
<line x1="394.10" y1="130.00" x2="394.10" y2="132.20" stroke="#555" stroke-width="0.7"/>
<text x="394.10" y="142.00" font-size="7.5" text-anchor="middle" font-weight="normal" fill="#111" stroke="#111" stroke-width="0.22" >-7</text>
<line x1="404.40" y1="130.00" x2="404.40" y2="132.20" stroke="#555" stroke-width="0.7"/>
<text x="404.40" y="142.00" font-size="7.5" text-anchor="middle" font-weight="normal" fill="#111" stroke="#111" stroke-width="0.22" >-6</text>
<line x1="414.80" y1="130.00" x2="414.80" y2="132.20" stroke="#555" stroke-width="0.7"/>
<text x="414.80" y="142.00" font-size="7.5" text-anchor="middle" font-weight="normal" fill="#111" stroke="#111" stroke-width="0.22" >-5</text>
<line x1="425.20" y1="130.00" x2="425.20" y2="132.20" stroke="#555" stroke-width="0.7"/>
<text x="425.20" y="142.00" font-size="7.5" text-anchor="middle" font-weight="normal" fill="#111" stroke="#111" stroke-width="0.22" >-4</text>
<text x="403.40" y="157.80" font-size="10" text-anchor="middle" font-weight="normal" fill="#111" stroke="#111" stroke-width="0.3" >Log [fMLP] (M)</text>
<line x1="383.80" y1="104.27" x2="383.80" y2="108.33" stroke="#444" stroke-width="0.5"/>
<line x1="382.60" y1="104.27" x2="385.00" y2="104.27" stroke="#444" stroke-width="0.5"/>
<line x1="382.60" y1="108.33" x2="385.00" y2="108.33" stroke="#444" stroke-width="0.5"/>
<line x1="394.10" y1="83.95" x2="394.10" y2="88.02" stroke="#444" stroke-width="0.5"/>
<line x1="392.90" y1="83.95" x2="395.30" y2="83.95" stroke="#444" stroke-width="0.5"/>
<line x1="392.90" y1="88.02" x2="395.30" y2="88.02" stroke="#444" stroke-width="0.5"/>
<line x1="404.40" y1="44.00" x2="404.40" y2="50.77" stroke="#444" stroke-width="0.5"/>
<line x1="403.20" y1="44.00" x2="405.60" y2="44.00" stroke="#444" stroke-width="0.5"/>
<line x1="403.20" y1="50.77" x2="405.60" y2="50.77" stroke="#444" stroke-width="0.5"/>
<line x1="414.80" y1="50.77" x2="414.80" y2="56.19" stroke="#444" stroke-width="0.5"/>
<line x1="413.60" y1="50.77" x2="416.00" y2="50.77" stroke="#444" stroke-width="0.5"/>
<line x1="413.60" y1="56.19" x2="416.00" y2="56.19" stroke="#444" stroke-width="0.5"/>
<line x1="425.20" y1="33.17" x2="425.20" y2="39.94" stroke="#444" stroke-width="0.5"/>
<line x1="424.00" y1="33.17" x2="426.40" y2="33.17" stroke="#444" stroke-width="0.5"/>
<line x1="424.00" y1="39.94" x2="426.40" y2="39.94" stroke="#444" stroke-width="0.5"/>
<polyline fill="none" stroke="#444" stroke-width="0.6" points="373.30,120.52 383.80,115.78 394.10,102.91 404.40,92.08 414.80,102.91 425.20,81.92"/>
<polyline fill="none" stroke="#444" stroke-width="0.6" points="373.30,118.49 383.80,106.30 394.10,85.99 404.40,47.39 414.80,53.48 425.20,36.55"/>
<circle cx="373.30" cy="120.52" r="2.2" fill="#000" stroke="#222" stroke-width="0.2"/>
<circle cx="383.80" cy="115.78" r="2.2" fill="#000" stroke="#222" stroke-width="0.2"/>
<circle cx="394.10" cy="102.91" r="2.2" fill="#000" stroke="#222" stroke-width="0.2"/>
<circle cx="404.40" cy="92.08" r="2.2" fill="#000" stroke="#222" stroke-width="0.2"/>
<circle cx="414.80" cy="102.91" r="2.2" fill="#000" stroke="#222" stroke-width="0.2"/>
<circle cx="425.20" cy="81.92" r="2.2" fill="#000" stroke="#222" stroke-width="0.2"/>
<circle cx="373.30" cy="118.49" r="1.9" fill="#fff" stroke="#222" stroke-width="0.6"/>
<circle cx="383.80" cy="106.30" r="1.9" fill="#fff" stroke="#222" stroke-width="0.6"/>
<circle cx="394.10" cy="85.99" r="1.9" fill="#fff" stroke="#222" stroke-width="0.6"/>
<circle cx="404.40" cy="47.39" r="1.9" fill="#fff" stroke="#222" stroke-width="0.6"/>
<circle cx="414.80" cy="53.48" r="1.9" fill="#fff" stroke="#222" stroke-width="0.6"/>
<circle cx="425.20" cy="36.55" r="1.9" fill="#fff" stroke="#222" stroke-width="0.6"/>
<line x1="383.20" y1="99.80" x2="383.20" y2="102.80" stroke="#111" stroke-width="0.8"/>
<line x1="381.90" y1="100.55" x2="384.50" y2="102.05" stroke="#111" stroke-width="0.8"/>
<line x1="384.50" y1="100.55" x2="381.90" y2="102.05" stroke="#111" stroke-width="0.8"/>
<line x1="389.40" y1="83.09" x2="389.40" y2="86.09" stroke="#111" stroke-width="0.8"/>
<line x1="388.10" y1="83.84" x2="390.70" y2="85.34" stroke="#111" stroke-width="0.8"/>
<line x1="390.70" y1="83.84" x2="388.10" y2="85.34" stroke="#111" stroke-width="0.8"/>
<line x1="404.40" y1="39.99" x2="404.40" y2="42.99" stroke="#111" stroke-width="0.8"/>
<line x1="403.10" y1="40.74" x2="405.70" y2="42.24" stroke="#111" stroke-width="0.8"/>
<line x1="405.70" y1="40.74" x2="403.10" y2="42.24" stroke="#111" stroke-width="0.8"/>
<line x1="414.20" y1="46.88" x2="414.20" y2="49.88" stroke="#111" stroke-width="0.8"/>
<line x1="412.90" y1="47.63" x2="415.50" y2="49.13" stroke="#111" stroke-width="0.8"/>
<line x1="415.50" y1="47.63" x2="412.90" y2="49.13" stroke="#111" stroke-width="0.8"/>
<line x1="424.90" y1="29.75" x2="424.90" y2="32.75" stroke="#111" stroke-width="0.8"/>
<line x1="423.60" y1="30.50" x2="426.20" y2="32.00" stroke="#111" stroke-width="0.8"/>
<line x1="426.20" y1="30.50" x2="423.60" y2="32.00" stroke="#111" stroke-width="0.8"/>
<text x="348.60" y="142.00" font-size="10.1" text-anchor="start" font-weight="normal" fill="#111" stroke="#111" stroke-width="0.3" transform="rotate(-90 348.60 142.00)" >Migration (neutrophils/field)</text>
<rect x="455.1" y="24.6" width="62.20" height="106.30" fill="none" stroke="#555" stroke-width="0.8"/>
<line x1="452.90" y1="130.90" x2="455.10" y2="130.90" stroke="#555" stroke-width="0.7"/>
<text x="451.10" y="133.50" font-size="7.5" text-anchor="end" font-weight="normal" fill="#111" stroke="#111" stroke-width="0.22" >0</text>
<line x1="452.90" y1="112.60" x2="455.10" y2="112.60" stroke="#555" stroke-width="0.7"/>
<text x="451.10" y="115.20" font-size="7.5" text-anchor="end" font-weight="normal" fill="#111" stroke="#111" stroke-width="0.22" >20</text>
<line x1="452.90" y1="94.30" x2="455.10" y2="94.30" stroke="#555" stroke-width="0.7"/>
<text x="451.10" y="96.90" font-size="7.5" text-anchor="end" font-weight="normal" fill="#111" stroke="#111" stroke-width="0.22" >40</text>
<line x1="452.90" y1="76.00" x2="455.10" y2="76.00" stroke="#555" stroke-width="0.7"/>
<text x="451.10" y="78.60" font-size="7.5" text-anchor="end" font-weight="normal" fill="#111" stroke="#111" stroke-width="0.22" >60</text>
<line x1="452.90" y1="57.70" x2="455.10" y2="57.70" stroke="#555" stroke-width="0.7"/>
<text x="451.10" y="60.30" font-size="7.5" text-anchor="end" font-weight="normal" fill="#111" stroke="#111" stroke-width="0.22" >80</text>
<line x1="452.90" y1="39.40" x2="455.10" y2="39.40" stroke="#555" stroke-width="0.7"/>
<text x="451.10" y="42.00" font-size="7.5" text-anchor="end" font-weight="normal" fill="#111" stroke="#111" stroke-width="0.22" >100</text>
<line x1="455.10" y1="130.90" x2="455.10" y2="133.10" stroke="#555" stroke-width="0.7"/>
<text x="455.10" y="142.90" font-size="7.5" text-anchor="middle" font-weight="normal" fill="#111" stroke="#111" stroke-width="0.22" >0</text>
<line x1="466.40" y1="130.90" x2="466.40" y2="133.10" stroke="#555" stroke-width="0.7"/>
<text x="466.40" y="142.90" font-size="7.5" text-anchor="middle" font-weight="normal" fill="#111" stroke="#111" stroke-width="0.22" >-9</text>
<line x1="477.60" y1="130.90" x2="477.60" y2="133.10" stroke="#555" stroke-width="0.7"/>
<text x="477.60" y="142.90" font-size="7.5" text-anchor="middle" font-weight="normal" fill="#111" stroke="#111" stroke-width="0.22" >-8</text>
<line x1="489.00" y1="130.90" x2="489.00" y2="133.10" stroke="#555" stroke-width="0.7"/>
<text x="489.00" y="142.90" font-size="7.5" text-anchor="middle" font-weight="normal" fill="#111" stroke="#111" stroke-width="0.22" >-7</text>
<line x1="500.20" y1="130.90" x2="500.20" y2="133.10" stroke="#555" stroke-width="0.7"/>
<text x="500.20" y="142.90" font-size="7.5" text-anchor="middle" font-weight="normal" fill="#111" stroke="#111" stroke-width="0.22" >-6</text>
<line x1="511.50" y1="130.90" x2="511.50" y2="133.10" stroke="#555" stroke-width="0.7"/>
<text x="511.50" y="142.90" font-size="7.5" text-anchor="middle" font-weight="normal" fill="#111" stroke="#111" stroke-width="0.22" >-5</text>
<text x="486.20" y="158.20" font-size="10" text-anchor="middle" font-weight="normal" fill="#111" stroke="#111" stroke-width="0.3" >Log [KC] (M)</text>
<line x1="477.60" y1="95.22" x2="477.60" y2="100.71" stroke="#444" stroke-width="0.5"/>
<line x1="476.40" y1="95.22" x2="478.80" y2="95.22" stroke="#444" stroke-width="0.5"/>
<line x1="476.40" y1="100.71" x2="478.80" y2="100.71" stroke="#444" stroke-width="0.5"/>
<line x1="489.00" y1="78.75" x2="489.00" y2="84.24" stroke="#444" stroke-width="0.5"/>
<line x1="487.80" y1="78.75" x2="490.20" y2="78.75" stroke="#444" stroke-width="0.5"/>
<line x1="487.80" y1="84.24" x2="490.20" y2="84.24" stroke="#444" stroke-width="0.5"/>
<line x1="500.20" y1="53.13" x2="500.20" y2="58.62" stroke="#444" stroke-width="0.5"/>
<line x1="499.00" y1="53.13" x2="501.40" y2="53.13" stroke="#444" stroke-width="0.5"/>
<line x1="499.00" y1="58.62" x2="501.40" y2="58.62" stroke="#444" stroke-width="0.5"/>
<line x1="511.50" y1="35.74" x2="511.50" y2="43.06" stroke="#444" stroke-width="0.5"/>
<line x1="510.30" y1="35.74" x2="512.70" y2="35.74" stroke="#444" stroke-width="0.5"/>
<line x1="510.30" y1="43.06" x2="512.70" y2="43.06" stroke="#444" stroke-width="0.5"/>
<line x1="455.10" y1="120.84" x2="455.10" y2="124.50" stroke="#444" stroke-width="0.5"/>
<line x1="453.90" y1="120.84" x2="456.30" y2="120.84" stroke="#444" stroke-width="0.5"/>
<line x1="453.90" y1="124.50" x2="456.30" y2="124.50" stroke="#444" stroke-width="0.5"/>
<line x1="489.00" y1="100.70" x2="489.00" y2="106.20" stroke="#444" stroke-width="0.5"/>
<line x1="487.80" y1="100.70" x2="490.20" y2="100.70" stroke="#444" stroke-width="0.5"/>
<line x1="487.80" y1="106.20" x2="490.20" y2="106.20" stroke="#444" stroke-width="0.5"/>
<polyline fill="none" stroke="#444" stroke-width="0.6" points="455.10,122.67 466.40,116.72 477.60,108.03 489.00,103.45 500.20,86.06 511.50,68.68"/>
<polyline fill="none" stroke="#444" stroke-width="0.6" points="455.10,122.67 466.40,116.72 477.60,97.96 489.00,81.49 500.20,55.87 511.50,39.40"/>
<circle cx="477.60" cy="108.03" r="2.2" fill="#000" stroke="#222" stroke-width="0.2"/>
<circle cx="489.00" cy="103.45" r="2.2" fill="#000" stroke="#222" stroke-width="0.2"/>
<circle cx="500.20" cy="86.06" r="2.2" fill="#000" stroke="#222" stroke-width="0.2"/>
<circle cx="511.50" cy="68.68" r="2.2" fill="#000" stroke="#222" stroke-width="0.2"/>
<circle cx="455.10" cy="122.67" r="1.9" fill="#fff" stroke="#222" stroke-width="0.6"/>
<circle cx="466.40" cy="116.72" r="1.9" fill="#fff" stroke="#222" stroke-width="0.6"/>
<circle cx="477.60" cy="97.96" r="1.9" fill="#fff" stroke="#222" stroke-width="0.6"/>
<circle cx="489.00" cy="81.49" r="1.9" fill="#fff" stroke="#222" stroke-width="0.6"/>
<circle cx="500.20" cy="55.87" r="1.9" fill="#fff" stroke="#222" stroke-width="0.6"/>
<circle cx="511.50" cy="39.40" r="1.9" fill="#fff" stroke="#222" stroke-width="0.6"/>
<circle cx="455.10" cy="122.67" r="2.2" fill="#000" stroke="#222" stroke-width="0.2"/>
<circle cx="466.40" cy="116.72" r="2.2" fill="#000" stroke="#222" stroke-width="0.2"/>
<line x1="474.90" y1="90.76" x2="474.90" y2="93.76" stroke="#111" stroke-width="0.8"/>
<line x1="473.60" y1="91.51" x2="476.20" y2="93.01" stroke="#111" stroke-width="0.8"/>
<line x1="476.20" y1="91.51" x2="473.60" y2="93.01" stroke="#111" stroke-width="0.8"/>
<line x1="484.60" y1="75.99" x2="484.60" y2="78.99" stroke="#111" stroke-width="0.8"/>
<line x1="483.30" y1="76.74" x2="485.90" y2="78.24" stroke="#111" stroke-width="0.8"/>
<line x1="485.90" y1="76.74" x2="483.30" y2="78.24" stroke="#111" stroke-width="0.8"/>
<line x1="498.20" y1="48.67" x2="498.20" y2="51.67" stroke="#111" stroke-width="0.8"/>
<line x1="496.90" y1="49.42" x2="499.50" y2="50.92" stroke="#111" stroke-width="0.8"/>
<line x1="499.50" y1="49.42" x2="496.90" y2="50.92" stroke="#111" stroke-width="0.8"/>
<line x1="511.50" y1="30.50" x2="511.50" y2="33.50" stroke="#111" stroke-width="0.8"/>
<line x1="510.20" y1="31.25" x2="512.80" y2="32.75" stroke="#111" stroke-width="0.8"/>
<line x1="512.80" y1="31.25" x2="510.20" y2="32.75" stroke="#111" stroke-width="0.8"/>
<text x="42.00" y="187.20" font-size="13.4" text-anchor="start" font-weight="bold" fill="#000" stroke="#000" stroke-width="0.3" >D</text>
<rect x="74.6" y="202" width="63.10" height="104.70" fill="none" stroke="#555" stroke-width="0.8"/>
<text x="105.60" y="195.80" font-size="10" text-anchor="middle" font-weight="normal" fill="#111" stroke="#111" stroke-width="0.3" >fMLP</text>
<line x1="72.40" y1="306.70" x2="74.60" y2="306.70" stroke="#555" stroke-width="0.7"/>
<text x="70.60" y="309.30" font-size="7.5" text-anchor="end" font-weight="normal" fill="#111" stroke="#111" stroke-width="0.22" >0</text>
<line x1="72.40" y1="289.25" x2="74.60" y2="289.25" stroke="#555" stroke-width="0.7"/>
<text x="70.60" y="291.85" font-size="7.5" text-anchor="end" font-weight="normal" fill="#111" stroke="#111" stroke-width="0.22" >20</text>
<line x1="72.40" y1="271.80" x2="74.60" y2="271.80" stroke="#555" stroke-width="0.7"/>
<text x="70.60" y="274.40" font-size="7.5" text-anchor="end" font-weight="normal" fill="#111" stroke="#111" stroke-width="0.22" >40</text>
<line x1="72.40" y1="254.35" x2="74.60" y2="254.35" stroke="#555" stroke-width="0.7"/>
<text x="70.60" y="256.95" font-size="7.5" text-anchor="end" font-weight="normal" fill="#111" stroke="#111" stroke-width="0.22" >60</text>
<line x1="72.40" y1="236.90" x2="74.60" y2="236.90" stroke="#555" stroke-width="0.7"/>
<text x="70.60" y="239.50" font-size="7.5" text-anchor="end" font-weight="normal" fill="#111" stroke="#111" stroke-width="0.22" >80</text>
<line x1="72.40" y1="219.45" x2="74.60" y2="219.45" stroke="#555" stroke-width="0.7"/>
<text x="70.60" y="222.05" font-size="7.5" text-anchor="end" font-weight="normal" fill="#111" stroke="#111" stroke-width="0.22" >100</text>
<line x1="72.40" y1="202.00" x2="74.60" y2="202.00" stroke="#555" stroke-width="0.7"/>
<text x="70.60" y="204.60" font-size="7.5" text-anchor="end" font-weight="normal" fill="#111" stroke="#111" stroke-width="0.22" >120</text>
<line x1="74.60" y1="306.70" x2="74.60" y2="308.90" stroke="#555" stroke-width="0.7"/>
<text x="74.60" y="318.20" font-size="7.5" text-anchor="middle" font-weight="normal" fill="#111" stroke="#111" stroke-width="0.22" >0</text>
<line x1="86.26" y1="306.70" x2="86.26" y2="308.90" stroke="#555" stroke-width="0.7"/>
<text x="86.26" y="318.20" font-size="7.5" text-anchor="middle" font-weight="normal" fill="#111" stroke="#111" stroke-width="0.22" >20</text>
<line x1="97.92" y1="306.70" x2="97.92" y2="308.90" stroke="#555" stroke-width="0.7"/>
<text x="97.92" y="318.20" font-size="7.5" text-anchor="middle" font-weight="normal" fill="#111" stroke="#111" stroke-width="0.22" >40</text>
<line x1="109.58" y1="306.70" x2="109.58" y2="308.90" stroke="#555" stroke-width="0.7"/>
<text x="109.58" y="318.20" font-size="7.5" text-anchor="middle" font-weight="normal" fill="#111" stroke="#111" stroke-width="0.22" >60</text>
<line x1="121.24" y1="306.70" x2="121.24" y2="308.90" stroke="#555" stroke-width="0.7"/>
<text x="121.24" y="318.20" font-size="7.5" text-anchor="middle" font-weight="normal" fill="#111" stroke="#111" stroke-width="0.22" >80</text>
<line x1="132.90" y1="306.70" x2="132.90" y2="308.90" stroke="#555" stroke-width="0.7"/>
<text x="132.90" y="318.20" font-size="7.5" text-anchor="middle" font-weight="normal" fill="#111" stroke="#111" stroke-width="0.22" >100</text>
<polyline fill="none" stroke="#444" stroke-width="0.6" points="74.60,306.70 76.93,306.70 79.26,306.70 81.60,306.70 83.93,306.70 86.26,306.70 88.59,298.85 90.92,272.67 93.26,268.31 95.59,268.75 97.92,270.93 100.25,274.42 102.58,278.78 104.92,281.40 107.25,283.58 109.58,285.76 111.91,287.50 114.24,289.25 116.58,291.00 118.91,292.30 121.24,293.18 123.57,294.05 125.90,294.49 128.24,294.92 130.57,295.36 132.90,295.79"/>
<polyline fill="none" stroke="#444" stroke-width="0.6" points="74.60,304.08 76.93,304.52 79.26,304.08 81.60,304.08 83.93,304.08 86.26,306.26 88.59,252.60 90.92,224.69 93.26,223.81 95.59,227.30 97.92,230.79 100.25,236.90 102.58,242.13 104.92,246.50 107.25,250.86 109.58,255.22 111.91,259.58 114.24,263.95 116.58,267.44 118.91,270.06 121.24,272.67 123.57,274.42 125.90,276.16 128.24,277.03 130.57,277.91 132.90,278.78"/>
<circle cx="74.60" cy="306.70" r="2.1" fill="#000" stroke="#222" stroke-width="0.2"/>
<circle cx="76.93" cy="306.70" r="2.1" fill="#000" stroke="#222" stroke-width="0.2"/>
<circle cx="79.26" cy="306.70" r="2.1" fill="#000" stroke="#222" stroke-width="0.2"/>
<circle cx="81.60" cy="306.70" r="2.1" fill="#000" stroke="#222" stroke-width="0.2"/>
<circle cx="83.93" cy="306.70" r="2.1" fill="#000" stroke="#222" stroke-width="0.2"/>
<circle cx="86.26" cy="306.70" r="2.1" fill="#000" stroke="#222" stroke-width="0.2"/>
<circle cx="88.59" cy="298.85" r="2.1" fill="#000" stroke="#222" stroke-width="0.2"/>
<circle cx="90.92" cy="272.67" r="2.1" fill="#000" stroke="#222" stroke-width="0.2"/>
<circle cx="93.26" cy="268.31" r="2.1" fill="#000" stroke="#222" stroke-width="0.2"/>
<circle cx="95.59" cy="268.75" r="2.1" fill="#000" stroke="#222" stroke-width="0.2"/>
<circle cx="97.92" cy="270.93" r="2.1" fill="#000" stroke="#222" stroke-width="0.2"/>
<circle cx="100.25" cy="274.42" r="2.1" fill="#000" stroke="#222" stroke-width="0.2"/>
<circle cx="102.58" cy="278.78" r="2.1" fill="#000" stroke="#222" stroke-width="0.2"/>
<circle cx="104.92" cy="281.40" r="2.1" fill="#000" stroke="#222" stroke-width="0.2"/>
<circle cx="107.25" cy="283.58" r="2.1" fill="#000" stroke="#222" stroke-width="0.2"/>
<circle cx="109.58" cy="285.76" r="2.1" fill="#000" stroke="#222" stroke-width="0.2"/>
<circle cx="111.91" cy="287.50" r="2.1" fill="#000" stroke="#222" stroke-width="0.2"/>
<circle cx="114.24" cy="289.25" r="2.1" fill="#000" stroke="#222" stroke-width="0.2"/>
<circle cx="116.58" cy="291.00" r="2.1" fill="#000" stroke="#222" stroke-width="0.2"/>
<circle cx="118.91" cy="292.30" r="2.1" fill="#000" stroke="#222" stroke-width="0.2"/>
<circle cx="121.24" cy="293.18" r="2.1" fill="#000" stroke="#222" stroke-width="0.2"/>
<circle cx="123.57" cy="294.05" r="2.1" fill="#000" stroke="#222" stroke-width="0.2"/>
<circle cx="125.90" cy="294.49" r="2.1" fill="#000" stroke="#222" stroke-width="0.2"/>
<circle cx="128.24" cy="294.92" r="2.1" fill="#000" stroke="#222" stroke-width="0.2"/>
<circle cx="130.57" cy="295.36" r="2.1" fill="#000" stroke="#222" stroke-width="0.2"/>
<circle cx="132.90" cy="295.79" r="2.1" fill="#000" stroke="#222" stroke-width="0.2"/>
<circle cx="74.60" cy="304.08" r="1.9" fill="#fff" stroke="#222" stroke-width="0.6"/>
<circle cx="76.93" cy="304.52" r="1.9" fill="#fff" stroke="#222" stroke-width="0.6"/>
<circle cx="79.26" cy="304.08" r="1.9" fill="#fff" stroke="#222" stroke-width="0.6"/>
<circle cx="81.60" cy="304.08" r="1.9" fill="#fff" stroke="#222" stroke-width="0.6"/>
<circle cx="83.93" cy="304.08" r="1.9" fill="#fff" stroke="#222" stroke-width="0.6"/>
<circle cx="86.26" cy="306.26" r="1.9" fill="#fff" stroke="#222" stroke-width="0.6"/>
<circle cx="88.59" cy="252.60" r="1.9" fill="#fff" stroke="#222" stroke-width="0.6"/>
<circle cx="90.92" cy="224.69" r="1.9" fill="#fff" stroke="#222" stroke-width="0.6"/>
<circle cx="93.26" cy="223.81" r="1.9" fill="#fff" stroke="#222" stroke-width="0.6"/>
<circle cx="95.59" cy="227.30" r="1.9" fill="#fff" stroke="#222" stroke-width="0.6"/>
<circle cx="97.92" cy="230.79" r="1.9" fill="#fff" stroke="#222" stroke-width="0.6"/>
<circle cx="100.25" cy="236.90" r="1.9" fill="#fff" stroke="#222" stroke-width="0.6"/>
<circle cx="102.58" cy="242.13" r="1.9" fill="#fff" stroke="#222" stroke-width="0.6"/>
<circle cx="104.92" cy="246.50" r="1.9" fill="#fff" stroke="#222" stroke-width="0.6"/>
<circle cx="107.25" cy="250.86" r="1.9" fill="#fff" stroke="#222" stroke-width="0.6"/>
<circle cx="109.58" cy="255.22" r="1.9" fill="#fff" stroke="#222" stroke-width="0.6"/>
<circle cx="111.91" cy="259.58" r="1.9" fill="#fff" stroke="#222" stroke-width="0.6"/>
<circle cx="114.24" cy="263.95" r="1.9" fill="#fff" stroke="#222" stroke-width="0.6"/>
<circle cx="116.58" cy="267.44" r="1.9" fill="#fff" stroke="#222" stroke-width="0.6"/>
<circle cx="118.91" cy="270.06" r="1.9" fill="#fff" stroke="#222" stroke-width="0.6"/>
<circle cx="121.24" cy="272.67" r="1.9" fill="#fff" stroke="#222" stroke-width="0.6"/>
<circle cx="123.57" cy="274.42" r="1.9" fill="#fff" stroke="#222" stroke-width="0.6"/>
<circle cx="125.90" cy="276.16" r="1.9" fill="#fff" stroke="#222" stroke-width="0.6"/>
<circle cx="128.24" cy="277.03" r="1.9" fill="#fff" stroke="#222" stroke-width="0.6"/>
<circle cx="130.57" cy="277.91" r="1.9" fill="#fff" stroke="#222" stroke-width="0.6"/>
<circle cx="132.90" cy="278.78" r="1.9" fill="#fff" stroke="#222" stroke-width="0.6"/>
<rect x="159" y="202" width="64.40" height="104.90" fill="none" stroke="#555" stroke-width="0.8"/>
<text x="189.60" y="195.80" font-size="10" text-anchor="middle" font-weight="normal" fill="#111" stroke="#111" stroke-width="0.3" >KC</text>
<line x1="156.80" y1="306.90" x2="159.00" y2="306.90" stroke="#555" stroke-width="0.7"/>
<text x="155.00" y="309.50" font-size="7.5" text-anchor="end" font-weight="normal" fill="#111" stroke="#111" stroke-width="0.22" >0</text>
<line x1="156.80" y1="289.42" x2="159.00" y2="289.42" stroke="#555" stroke-width="0.7"/>
<text x="155.00" y="292.02" font-size="7.5" text-anchor="end" font-weight="normal" fill="#111" stroke="#111" stroke-width="0.22" >20</text>
<line x1="156.80" y1="271.93" x2="159.00" y2="271.93" stroke="#555" stroke-width="0.7"/>
<text x="155.00" y="274.53" font-size="7.5" text-anchor="end" font-weight="normal" fill="#111" stroke="#111" stroke-width="0.22" >40</text>
<line x1="156.80" y1="254.45" x2="159.00" y2="254.45" stroke="#555" stroke-width="0.7"/>
<text x="155.00" y="257.05" font-size="7.5" text-anchor="end" font-weight="normal" fill="#111" stroke="#111" stroke-width="0.22" >60</text>
<line x1="156.80" y1="236.97" x2="159.00" y2="236.97" stroke="#555" stroke-width="0.7"/>
<text x="155.00" y="239.57" font-size="7.5" text-anchor="end" font-weight="normal" fill="#111" stroke="#111" stroke-width="0.22" >80</text>
<line x1="156.80" y1="219.48" x2="159.00" y2="219.48" stroke="#555" stroke-width="0.7"/>
<text x="155.00" y="222.08" font-size="7.5" text-anchor="end" font-weight="normal" fill="#111" stroke="#111" stroke-width="0.22" >100</text>
<line x1="156.80" y1="202.00" x2="159.00" y2="202.00" stroke="#555" stroke-width="0.7"/>
<text x="155.00" y="204.60" font-size="7.5" text-anchor="end" font-weight="normal" fill="#111" stroke="#111" stroke-width="0.22" >120</text>
<line x1="159.00" y1="306.90" x2="159.00" y2="309.10" stroke="#555" stroke-width="0.7"/>
<text x="159.00" y="318.40" font-size="7.5" text-anchor="middle" font-weight="normal" fill="#111" stroke="#111" stroke-width="0.22" >0</text>
<line x1="170.66" y1="306.90" x2="170.66" y2="309.10" stroke="#555" stroke-width="0.7"/>
<text x="170.66" y="318.40" font-size="7.5" text-anchor="middle" font-weight="normal" fill="#111" stroke="#111" stroke-width="0.22" >20</text>
<line x1="182.32" y1="306.90" x2="182.32" y2="309.10" stroke="#555" stroke-width="0.7"/>
<text x="182.32" y="318.40" font-size="7.5" text-anchor="middle" font-weight="normal" fill="#111" stroke="#111" stroke-width="0.22" >40</text>
<line x1="193.98" y1="306.90" x2="193.98" y2="309.10" stroke="#555" stroke-width="0.7"/>
<text x="193.98" y="318.40" font-size="7.5" text-anchor="middle" font-weight="normal" fill="#111" stroke="#111" stroke-width="0.22" >60</text>
<line x1="205.64" y1="306.90" x2="205.64" y2="309.10" stroke="#555" stroke-width="0.7"/>
<text x="205.64" y="318.40" font-size="7.5" text-anchor="middle" font-weight="normal" fill="#111" stroke="#111" stroke-width="0.22" >80</text>
<line x1="217.30" y1="306.90" x2="217.30" y2="309.10" stroke="#555" stroke-width="0.7"/>
<text x="217.30" y="318.40" font-size="7.5" text-anchor="middle" font-weight="normal" fill="#111" stroke="#111" stroke-width="0.22" >100</text>
<polyline fill="none" stroke="#444" stroke-width="0.6" points="159.00,302.97 161.33,302.97 163.66,302.97 166.00,302.97 168.33,302.97 170.66,299.91 172.99,284.17 175.32,266.69 177.66,262.32 179.99,263.19 182.32,268.44 184.65,274.56 186.98,278.93 189.32,283.30 191.65,286.79 193.98,288.54 196.31,290.29 198.64,291.16 200.98,292.04 203.31,292.91 205.64,293.35 207.97,293.79 210.30,294.22 212.64,294.22 214.97,294.66 217.30,294.66"/>
<polyline fill="none" stroke="#444" stroke-width="0.6" points="159.00,299.91 161.33,299.91 163.66,299.91 166.00,299.91 168.33,299.91 170.66,304.71 172.99,249.20 175.32,219.92 177.66,222.98 179.99,232.60 182.32,241.34 184.65,252.70 186.98,261.44 189.32,269.31 191.65,274.56 193.98,278.05 196.31,280.67 198.64,282.86 200.98,284.17 203.31,285.48 205.64,286.79 207.97,287.67 210.30,288.11 212.64,288.54 214.97,288.98 217.30,289.42"/>
<circle cx="159.00" cy="302.97" r="2.1" fill="#000" stroke="#222" stroke-width="0.2"/>
<circle cx="161.33" cy="302.97" r="2.1" fill="#000" stroke="#222" stroke-width="0.2"/>
<circle cx="163.66" cy="302.97" r="2.1" fill="#000" stroke="#222" stroke-width="0.2"/>
<circle cx="166.00" cy="302.97" r="2.1" fill="#000" stroke="#222" stroke-width="0.2"/>
<circle cx="168.33" cy="302.97" r="2.1" fill="#000" stroke="#222" stroke-width="0.2"/>
<circle cx="170.66" cy="299.91" r="2.1" fill="#000" stroke="#222" stroke-width="0.2"/>
<circle cx="172.99" cy="284.17" r="2.1" fill="#000" stroke="#222" stroke-width="0.2"/>
<circle cx="175.32" cy="266.69" r="2.1" fill="#000" stroke="#222" stroke-width="0.2"/>
<circle cx="177.66" cy="262.32" r="2.1" fill="#000" stroke="#222" stroke-width="0.2"/>
<circle cx="179.99" cy="263.19" r="2.1" fill="#000" stroke="#222" stroke-width="0.2"/>
<circle cx="182.32" cy="268.44" r="2.1" fill="#000" stroke="#222" stroke-width="0.2"/>
<circle cx="184.65" cy="274.56" r="2.1" fill="#000" stroke="#222" stroke-width="0.2"/>
<circle cx="186.98" cy="278.93" r="2.1" fill="#000" stroke="#222" stroke-width="0.2"/>
<circle cx="189.32" cy="283.30" r="2.1" fill="#000" stroke="#222" stroke-width="0.2"/>
<circle cx="191.65" cy="286.79" r="2.1" fill="#000" stroke="#222" stroke-width="0.2"/>
<circle cx="193.98" cy="288.54" r="2.1" fill="#000" stroke="#222" stroke-width="0.2"/>
<circle cx="196.31" cy="290.29" r="2.1" fill="#000" stroke="#222" stroke-width="0.2"/>
<circle cx="198.64" cy="291.16" r="2.1" fill="#000" stroke="#222" stroke-width="0.2"/>
<circle cx="200.98" cy="292.04" r="2.1" fill="#000" stroke="#222" stroke-width="0.2"/>
<circle cx="203.31" cy="292.91" r="2.1" fill="#000" stroke="#222" stroke-width="0.2"/>
<circle cx="205.64" cy="293.35" r="2.1" fill="#000" stroke="#222" stroke-width="0.2"/>
<circle cx="207.97" cy="293.79" r="2.1" fill="#000" stroke="#222" stroke-width="0.2"/>
<circle cx="210.30" cy="294.22" r="2.1" fill="#000" stroke="#222" stroke-width="0.2"/>
<circle cx="212.64" cy="294.22" r="2.1" fill="#000" stroke="#222" stroke-width="0.2"/>
<circle cx="214.97" cy="294.66" r="2.1" fill="#000" stroke="#222" stroke-width="0.2"/>
<circle cx="217.30" cy="294.66" r="2.1" fill="#000" stroke="#222" stroke-width="0.2"/>
<circle cx="159.00" cy="299.91" r="1.9" fill="#fff" stroke="#222" stroke-width="0.6"/>
<circle cx="161.33" cy="299.91" r="1.9" fill="#fff" stroke="#222" stroke-width="0.6"/>
<circle cx="163.66" cy="299.91" r="1.9" fill="#fff" stroke="#222" stroke-width="0.6"/>
<circle cx="166.00" cy="299.91" r="1.9" fill="#fff" stroke="#222" stroke-width="0.6"/>
<circle cx="168.33" cy="299.91" r="1.9" fill="#fff" stroke="#222" stroke-width="0.6"/>
<circle cx="170.66" cy="304.71" r="1.9" fill="#fff" stroke="#222" stroke-width="0.6"/>
<circle cx="172.99" cy="249.20" r="1.9" fill="#fff" stroke="#222" stroke-width="0.6"/>
<circle cx="175.32" cy="219.92" r="1.9" fill="#fff" stroke="#222" stroke-width="0.6"/>
<circle cx="177.66" cy="222.98" r="1.9" fill="#fff" stroke="#222" stroke-width="0.6"/>
<circle cx="179.99" cy="232.60" r="1.9" fill="#fff" stroke="#222" stroke-width="0.6"/>
<circle cx="182.32" cy="241.34" r="1.9" fill="#fff" stroke="#222" stroke-width="0.6"/>
<circle cx="184.65" cy="252.70" r="1.9" fill="#fff" stroke="#222" stroke-width="0.6"/>
<circle cx="186.98" cy="261.44" r="1.9" fill="#fff" stroke="#222" stroke-width="0.6"/>
<circle cx="189.32" cy="269.31" r="1.9" fill="#fff" stroke="#222" stroke-width="0.6"/>
<circle cx="191.65" cy="274.56" r="1.9" fill="#fff" stroke="#222" stroke-width="0.6"/>
<circle cx="193.98" cy="278.05" r="1.9" fill="#fff" stroke="#222" stroke-width="0.6"/>
<circle cx="196.31" cy="280.67" r="1.9" fill="#fff" stroke="#222" stroke-width="0.6"/>
<circle cx="198.64" cy="282.86" r="1.9" fill="#fff" stroke="#222" stroke-width="0.6"/>
<circle cx="200.98" cy="284.17" r="1.9" fill="#fff" stroke="#222" stroke-width="0.6"/>
<circle cx="203.31" cy="285.48" r="1.9" fill="#fff" stroke="#222" stroke-width="0.6"/>
<circle cx="205.64" cy="286.79" r="1.9" fill="#fff" stroke="#222" stroke-width="0.6"/>
<circle cx="207.97" cy="287.67" r="1.9" fill="#fff" stroke="#222" stroke-width="0.6"/>
<circle cx="210.30" cy="288.11" r="1.9" fill="#fff" stroke="#222" stroke-width="0.6"/>
<circle cx="212.64" cy="288.54" r="1.9" fill="#fff" stroke="#222" stroke-width="0.6"/>
<circle cx="214.97" cy="288.98" r="1.9" fill="#fff" stroke="#222" stroke-width="0.6"/>
<circle cx="217.30" cy="289.42" r="1.9" fill="#fff" stroke="#222" stroke-width="0.6"/>
<text x="51.00" y="319.60" font-size="10" text-anchor="start" font-weight="normal" fill="#111" stroke="#111" stroke-width="0.3" transform="rotate(-90 51.00 319.60)" >Relative fluorescence x 10<tspan dy="-3.5" font-size="6.8">-3</tspan></text>
<text x="256.50" y="187.80" font-size="13.4" text-anchor="start" font-weight="bold" fill="#000" stroke="#000" stroke-width="0.3" >E</text>
<text x="300.20" y="197.40" font-size="9.5" text-anchor="middle" font-weight="normal" fill="#111" stroke="#111" stroke-width="0.3" >pHrodo</text>
<text x="354.20" y="197.40" font-size="9.5" text-anchor="middle" font-weight="normal" fill="#111" stroke="#111" stroke-width="0.3" >DAPI</text>
<text x="405.00" y="197.40" font-size="9.5" text-anchor="middle" font-weight="normal" fill="#111" stroke="#111" stroke-width="0.3" >Merge</text>
<text x="265.80" y="230.50" font-size="12.5" text-anchor="middle" font-weight="bold" fill="#111" stroke="#111" stroke-width="0.3" transform="rotate(-90 265.80 230.50)" >+/+</text>
<text x="266.10" y="284.80" font-size="12.5" text-anchor="middle" font-weight="bold" fill="#111" stroke="#111" stroke-width="0.3" transform="rotate(-90 266.10 284.80)" >-/-</text>
<defs>
<filter id="bl1" x="-20%" y="-20%" width="140%" height="140%"><feGaussianBlur stdDeviation="0.8"/></filter>
<filter id="bl2" x="-20%" y="-20%" width="140%" height="140%"><feGaussianBlur stdDeviation="0.7"/></filter>
<clipPath id="cp"><rect x="0" y="0" width="53.6" height="53.6"/></clipPath>

<g id="r1" filter="url(#bl1)">
<ellipse cx="13.4" cy="12.3" rx="2.84" ry="2.29" fill="#ff2a10" fill-opacity="1.00"/>
<circle cx="13.4" cy="12.3" r="1.62" fill="#ff4028" fill-opacity="1"/>
<circle cx="13.4" cy="12.3" r="4.59" fill="#a00000" fill-opacity="0.22"/>
<ellipse cx="4.7" cy="18.7" rx="2.52" ry="2.04" fill="#ff2a10" fill-opacity="1.00"/>
<circle cx="4.7" cy="18.7" r="1.44" fill="#ff4028" fill-opacity="1"/>
<circle cx="4.7" cy="18.7" r="4.08" fill="#a00000" fill-opacity="0.22"/>
<ellipse cx="19.6" cy="19.9" rx="1.68" ry="1.36" fill="#ff2a10" fill-opacity="0.28"/>
<circle cx="19.6" cy="19.9" r="2.72" fill="#a00000" fill-opacity="0.06"/>
<ellipse cx="30.7" cy="21.7" rx="1.89" ry="1.53" fill="#ff2a10" fill-opacity="0.28"/>
<circle cx="30.7" cy="21.7" r="3.06" fill="#a00000" fill-opacity="0.06"/>
<ellipse cx="40.8" cy="24.4" rx="1.78" ry="1.44" fill="#ff2a10" fill-opacity="0.45"/>
<circle cx="40.8" cy="24.4" r="2.89" fill="#a00000" fill-opacity="0.10"/>
<ellipse cx="43.5" cy="35.4" rx="1.89" ry="1.53" fill="#ff2a10" fill-opacity="0.60"/>
<circle cx="43.5" cy="35.4" r="3.06" fill="#a00000" fill-opacity="0.13"/>
<ellipse cx="51.8" cy="36.9" rx="1.68" ry="1.36" fill="#ff2a10" fill-opacity="0.55"/>
<circle cx="51.8" cy="36.9" r="2.72" fill="#a00000" fill-opacity="0.12"/>
<ellipse cx="21.5" cy="40.9" rx="1.68" ry="1.36" fill="#ff2a10" fill-opacity="0.30"/>
<circle cx="21.5" cy="40.9" r="2.72" fill="#a00000" fill-opacity="0.07"/>
<ellipse cx="28.5" cy="42.4" rx="1.58" ry="1.27" fill="#ff2a10" fill-opacity="0.60"/>
<circle cx="28.5" cy="42.4" r="2.55" fill="#a00000" fill-opacity="0.13"/>
<ellipse cx="37.8" cy="40.9" rx="1.68" ry="1.36" fill="#ff2a10" fill-opacity="0.28"/>
<circle cx="37.8" cy="40.9" r="2.72" fill="#a00000" fill-opacity="0.06"/>
<ellipse cx="51.8" cy="41.4" rx="1.58" ry="1.27" fill="#ff2a10" fill-opacity="0.70"/>
<circle cx="51.8" cy="41.4" r="2.55" fill="#a00000" fill-opacity="0.15"/>
<ellipse cx="9.8" cy="32.9" rx="1.68" ry="1.36" fill="#ff2a10" fill-opacity="0.15"/>
<circle cx="9.8" cy="32.9" r="2.72" fill="#a00000" fill-opacity="0.03"/>
<ellipse cx="33.8" cy="29.9" rx="1.68" ry="1.36" fill="#ff2a10" fill-opacity="0.15"/>
<circle cx="33.8" cy="29.9" r="2.72" fill="#a00000" fill-opacity="0.03"/>
</g>
<g id="b1" filter="url(#bl2)">
<circle cx="7.0" cy="7.9" r="5.10" fill="#0000c0" fill-opacity="0.25"/>
<ellipse cx="7.0" cy="7.9" rx="3.77" ry="2.97" transform="rotate(43 7.0 7.9)" fill="#1010f0" fill-opacity="0.90"/>
<circle cx="7.2" cy="7.2" r="1.53" fill="#3a3aff" fill-opacity="0.72"/>
<circle cx="45.6" cy="4.2" r="4.95" fill="#0000c0" fill-opacity="0.22"/>
<ellipse cx="45.6" cy="4.2" rx="3.85" ry="2.81" transform="rotate(2 45.6 4.2)" fill="#1010f0" fill-opacity="0.80"/>
<circle cx="46.4" cy="4.2" r="1.48" fill="#3a3aff" fill-opacity="0.64"/>
<circle cx="11.7" cy="14.9" r="4.95" fill="#0000c0" fill-opacity="0.28"/>
<ellipse cx="11.7" cy="14.9" rx="2.82" ry="2.39" transform="rotate(151 11.7 14.9)" fill="#1010f0" fill-opacity="0.22" stroke="#1010f0" stroke-opacity="1.00" stroke-width="2.05"/>
<circle cx="30.0" cy="12.5" r="4.80" fill="#0000c0" fill-opacity="0.22"/>
<ellipse cx="30.0" cy="12.5" rx="3.76" ry="2.89" transform="rotate(114 30.0 12.5)" fill="#1010f0" fill-opacity="0.80"/>
<circle cx="30.3" cy="11.8" r="1.44" fill="#3a3aff" fill-opacity="0.64"/>
<circle cx="1.6" cy="16.9" r="4.50" fill="#0000c0" fill-opacity="0.22"/>
<ellipse cx="1.6" cy="16.9" rx="2.62" ry="2.01" transform="rotate(136 1.6 16.9)" fill="#1010f0" fill-opacity="0.18" stroke="#1010f0" stroke-opacity="0.80" stroke-width="1.86"/>
<circle cx="48.4" cy="14.3" r="4.50" fill="#0000c0" fill-opacity="0.20"/>
<ellipse cx="48.4" cy="14.3" rx="3.28" ry="2.83" transform="rotate(156 48.4 14.3)" fill="#1010f0" fill-opacity="0.70"/>
<circle cx="48.7" cy="15.0" r="1.35" fill="#3a3aff" fill-opacity="0.56"/>
<circle cx="36.4" cy="19.9" r="4.80" fill="#0000c0" fill-opacity="0.22"/>
<ellipse cx="36.4" cy="19.9" rx="3.71" ry="2.84" transform="rotate(71 36.4 19.9)" fill="#1010f0" fill-opacity="0.80"/>
<circle cx="37.0" cy="19.3" r="1.44" fill="#3a3aff" fill-opacity="0.64"/>
<circle cx="5.3" cy="27.2" r="4.95" fill="#0000c0" fill-opacity="0.25"/>
<ellipse cx="5.3" cy="27.2" rx="3.44" ry="3.28" transform="rotate(24 5.3 27.2)" fill="#1010f0" fill-opacity="0.90"/>
<circle cx="5.5" cy="26.9" r="1.48" fill="#3a3aff" fill-opacity="0.72"/>
<circle cx="20.0" cy="25.3" r="4.80" fill="#0000c0" fill-opacity="0.22"/>
<ellipse cx="20.0" cy="25.3" rx="3.45" ry="2.78" transform="rotate(91 20.0 25.3)" fill="#1010f0" fill-opacity="0.80"/>
<circle cx="20.1" cy="25.9" r="1.44" fill="#3a3aff" fill-opacity="0.64"/>
<circle cx="26.4" cy="27.2" r="4.20" fill="#0000c0" fill-opacity="0.14"/>
<ellipse cx="26.4" cy="27.2" rx="3.32" ry="2.72" transform="rotate(123 26.4 27.2)" fill="#1010f0" fill-opacity="0.50"/>
<circle cx="26.7" cy="26.7" r="1.26" fill="#3a3aff" fill-opacity="0.40"/>
<circle cx="40.0" cy="26.3" r="4.20" fill="#0000c0" fill-opacity="0.15"/>
<ellipse cx="40.0" cy="26.3" rx="3.34" ry="2.75" transform="rotate(155 40.0 26.3)" fill="#1010f0" fill-opacity="0.55"/>
<circle cx="40.3" cy="25.8" r="1.26" fill="#3a3aff" fill-opacity="0.44"/>
<circle cx="50.2" cy="26.3" r="4.20" fill="#0000c0" fill-opacity="0.15"/>
<ellipse cx="50.2" cy="26.3" rx="2.43" ry="1.87" transform="rotate(150 50.2 26.3)" fill="#1010f0" fill-opacity="0.12" stroke="#1010f0" stroke-opacity="0.55" stroke-width="1.74"/>
<circle cx="29.0" cy="34.5" r="5.25" fill="#0000c0" fill-opacity="0.28"/>
<ellipse cx="29.0" cy="34.5" rx="4.19" ry="2.86" transform="rotate(154 29.0 34.5)" fill="#1010f0" fill-opacity="1.00"/>
<circle cx="28.9" cy="33.9" r="1.57" fill="#3a3aff" fill-opacity="0.80"/>
<circle cx="41.0" cy="33.6" r="4.50" fill="#0000c0" fill-opacity="0.24"/>
<ellipse cx="41.0" cy="33.6" rx="2.70" ry="2.28" transform="rotate(53 41.0 33.6)" fill="#1010f0" fill-opacity="0.19" stroke="#1010f0" stroke-opacity="0.85" stroke-width="1.86"/>
<circle cx="14.4" cy="36.3" r="4.80" fill="#0000c0" fill-opacity="0.25"/>
<ellipse cx="14.4" cy="36.3" rx="3.23" ry="3.02" transform="rotate(111 14.4 36.3)" fill="#1010f0" fill-opacity="0.90"/>
<circle cx="15.0" cy="37.1" r="1.44" fill="#3a3aff" fill-opacity="0.72"/>
<circle cx="21.8" cy="39.9" r="4.50" fill="#0000c0" fill-opacity="0.25"/>
<ellipse cx="21.8" cy="39.9" rx="2.81" ry="2.02" transform="rotate(91 21.8 39.9)" fill="#1010f0" fill-opacity="0.20" stroke="#1010f0" stroke-opacity="0.90" stroke-width="1.86"/>
<circle cx="50.2" cy="39.9" r="4.50" fill="#0000c0" fill-opacity="0.22"/>
<ellipse cx="50.2" cy="39.9" rx="3.02" ry="2.52" transform="rotate(108 50.2 39.9)" fill="#1010f0" fill-opacity="0.80"/>
<circle cx="50.4" cy="39.3" r="1.35" fill="#3a3aff" fill-opacity="0.64"/>
<circle cx="38.3" cy="40.9" r="4.20" fill="#0000c0" fill-opacity="0.14"/>
<ellipse cx="38.3" cy="40.9" rx="3.29" ry="2.42" transform="rotate(8 38.3 40.9)" fill="#1010f0" fill-opacity="0.50"/>
<circle cx="38.9" cy="40.7" r="1.26" fill="#3a3aff" fill-opacity="0.40"/>
<circle cx="26.4" cy="45.9" r="4.80" fill="#0000c0" fill-opacity="0.25"/>
<ellipse cx="26.4" cy="45.9" rx="3.53" ry="2.97" transform="rotate(83 26.4 45.9)" fill="#1010f0" fill-opacity="0.90"/>
<circle cx="26.5" cy="46.1" r="1.44" fill="#3a3aff" fill-opacity="0.72"/>
<circle cx="10.8" cy="49.9" r="4.95" fill="#0000c0" fill-opacity="0.27"/>
<ellipse cx="10.8" cy="49.9" rx="3.63" ry="2.92" transform="rotate(169 10.8 49.9)" fill="#1010f0" fill-opacity="0.95"/>
<circle cx="10.4" cy="49.6" r="1.48" fill="#3a3aff" fill-opacity="0.76"/>
<circle cx="3.4" cy="42.9" r="3.90" fill="#0000c0" fill-opacity="0.13"/>
<ellipse cx="3.4" cy="42.9" rx="2.24" ry="1.84" transform="rotate(176 3.4 42.9)" fill="#1010f0" fill-opacity="0.10" stroke="#1010f0" stroke-opacity="0.45" stroke-width="1.61"/>
<circle cx="31.9" cy="2.4" r="3.90" fill="#0000c0" fill-opacity="0.14"/>
<ellipse cx="31.9" cy="2.4" rx="2.90" ry="2.09" transform="rotate(75 31.9 2.4)" fill="#1010f0" fill-opacity="0.50"/>
<circle cx="32.1" cy="1.7" r="1.17" fill="#3a3aff" fill-opacity="0.40"/>
<circle cx="17.0" cy="3.4" r="3.90" fill="#0000c0" fill-opacity="0.11"/>
<ellipse cx="17.0" cy="3.4" rx="2.84" ry="2.43" transform="rotate(113 17.0 3.4)" fill="#1010f0" fill-opacity="0.40"/>
<circle cx="17.3" cy="3.8" r="1.17" fill="#3a3aff" fill-opacity="0.32"/>
<circle cx="46.0" cy="47.9" r="3.75" fill="#0000c0" fill-opacity="0.11"/>
<ellipse cx="46.0" cy="47.9" rx="2.53" ry="2.34" transform="rotate(4 46.0 47.9)" fill="#1010f0" fill-opacity="0.40"/>
<circle cx="45.6" cy="47.8" r="1.12" fill="#3a3aff" fill-opacity="0.32"/>
<circle cx="35.0" cy="48.9" r="3.75" fill="#0000c0" fill-opacity="0.11"/>
<ellipse cx="35.0" cy="48.9" rx="2.66" ry="2.18" transform="rotate(107 35.0 48.9)" fill="#1010f0" fill-opacity="0.40"/>
<circle cx="34.8" cy="49.1" r="1.12" fill="#3a3aff" fill-opacity="0.32"/>
</g>
<g id="r2" filter="url(#bl1)">
<ellipse cx="27.8" cy="23.7" rx="2.31" ry="1.87" fill="#d81808" fill-opacity="0.50"/>
<circle cx="27.8" cy="23.7" r="3.74" fill="#a00000" fill-opacity="0.11"/>
<ellipse cx="37.1" cy="26.1" rx="1.78" ry="1.44" fill="#d81808" fill-opacity="0.35"/>
<circle cx="37.1" cy="26.1" r="2.89" fill="#a00000" fill-opacity="0.08"/>
<ellipse cx="19.7" cy="7.1" rx="1.89" ry="1.53" fill="#d81808" fill-opacity="0.13"/>
<circle cx="19.7" cy="7.1" r="3.06" fill="#a00000" fill-opacity="0.03"/>
<ellipse cx="31.6" cy="13.6" rx="1.89" ry="1.53" fill="#d81808" fill-opacity="0.13"/>
<circle cx="31.6" cy="13.6" r="3.06" fill="#a00000" fill-opacity="0.03"/>
<ellipse cx="29.8" cy="32.1" rx="1.78" ry="1.44" fill="#d81808" fill-opacity="0.22"/>
<circle cx="29.8" cy="32.1" r="2.89" fill="#a00000" fill-opacity="0.05"/>
<ellipse cx="25.8" cy="40.1" rx="1.78" ry="1.44" fill="#d81808" fill-opacity="0.22"/>
<circle cx="25.8" cy="40.1" r="2.89" fill="#a00000" fill-opacity="0.05"/>
<ellipse cx="9.6" cy="41.1" rx="1.78" ry="1.44" fill="#d81808" fill-opacity="0.18"/>
<circle cx="9.6" cy="41.1" r="2.89" fill="#a00000" fill-opacity="0.04"/>
<ellipse cx="17.8" cy="33.8" rx="1.78" ry="1.44" fill="#d81808" fill-opacity="0.18"/>
<circle cx="17.8" cy="33.8" r="2.89" fill="#a00000" fill-opacity="0.04"/>
<ellipse cx="43.5" cy="46.6" rx="1.78" ry="1.44" fill="#d81808" fill-opacity="0.18"/>
<circle cx="43.5" cy="46.6" r="2.89" fill="#a00000" fill-opacity="0.04"/>
</g>
<g id="b2" filter="url(#bl2)">
<circle cx="22.7" cy="4.8" r="4.50" fill="#0000c0" fill-opacity="0.24"/>
<ellipse cx="22.7" cy="4.8" rx="3.45" ry="2.88" transform="rotate(112 22.7 4.8)" fill="#1010f0" fill-opacity="0.85"/>
<circle cx="23.1" cy="5.5" r="1.35" fill="#3a3aff" fill-opacity="0.68"/>
<circle cx="31.0" cy="5.4" r="4.50" fill="#0000c0" fill-opacity="0.22"/>
<ellipse cx="31.0" cy="5.4" rx="2.56" ry="2.31" transform="rotate(5 31.0 5.4)" fill="#1010f0" fill-opacity="0.18" stroke="#1010f0" stroke-opacity="0.80" stroke-width="1.86"/>
<circle cx="45.6" cy="5.9" r="4.20" fill="#0000c0" fill-opacity="0.22"/>
<ellipse cx="45.6" cy="5.9" rx="2.23" ry="1.95" transform="rotate(162 45.6 5.9)" fill="#1010f0" fill-opacity="0.18" stroke="#1010f0" stroke-opacity="0.80" stroke-width="1.74"/>
<circle cx="9.0" cy="9.6" r="4.80" fill="#0000c0" fill-opacity="0.25"/>
<ellipse cx="9.0" cy="9.6" rx="2.78" ry="2.00" transform="rotate(98 9.0 9.6)" fill="#1010f0" fill-opacity="0.20" stroke="#1010f0" stroke-opacity="0.90" stroke-width="1.98"/>
<circle cx="15.3" cy="10.9" r="4.50" fill="#0000c0" fill-opacity="0.24"/>
<ellipse cx="15.3" cy="10.9" rx="2.77" ry="2.23" transform="rotate(50 15.3 10.9)" fill="#1010f0" fill-opacity="0.19" stroke="#1010f0" stroke-opacity="0.85" stroke-width="1.86"/>
<circle cx="27.3" cy="11.8" r="4.80" fill="#0000c0" fill-opacity="0.25"/>
<ellipse cx="27.3" cy="11.8" rx="2.57" ry="2.31" transform="rotate(143 27.3 11.8)" fill="#1010f0" fill-opacity="0.20" stroke="#1010f0" stroke-opacity="0.90" stroke-width="1.98"/>
<circle cx="36.4" cy="10.9" r="4.50" fill="#0000c0" fill-opacity="0.24"/>
<ellipse cx="36.4" cy="10.9" rx="2.75" ry="1.97" transform="rotate(0 36.4 10.9)" fill="#1010f0" fill-opacity="0.19" stroke="#1010f0" stroke-opacity="0.85" stroke-width="1.86"/>
<circle cx="41.0" cy="18.1" r="4.50" fill="#0000c0" fill-opacity="0.24"/>
<ellipse cx="41.0" cy="18.1" rx="3.52" ry="2.57" transform="rotate(177 41.0 18.1)" fill="#1010f0" fill-opacity="0.85"/>
<circle cx="41.1" cy="18.4" r="1.35" fill="#3a3aff" fill-opacity="0.68"/>
<circle cx="31.0" cy="19.1" r="4.50" fill="#0000c0" fill-opacity="0.24"/>
<ellipse cx="31.0" cy="19.1" rx="3.56" ry="2.81" transform="rotate(37 31.0 19.1)" fill="#1010f0" fill-opacity="0.85"/>
<circle cx="31.6" cy="18.8" r="1.35" fill="#3a3aff" fill-opacity="0.68"/>
<circle cx="20.0" cy="19.5" r="4.80" fill="#0000c0" fill-opacity="0.25"/>
<ellipse cx="20.0" cy="19.5" rx="2.58" ry="2.07" transform="rotate(65 20.0 19.5)" fill="#1010f0" fill-opacity="0.20" stroke="#1010f0" stroke-opacity="0.90" stroke-width="1.98"/>
<circle cx="6.2" cy="24.6" r="4.50" fill="#0000c0" fill-opacity="0.22"/>
<ellipse cx="6.2" cy="24.6" rx="2.62" ry="1.87" transform="rotate(54 6.2 24.6)" fill="#1010f0" fill-opacity="0.18" stroke="#1010f0" stroke-opacity="0.80" stroke-width="1.86"/>
<circle cx="14.4" cy="25.5" r="4.80" fill="#0000c0" fill-opacity="0.27"/>
<ellipse cx="14.4" cy="25.5" rx="2.65" ry="2.41" transform="rotate(61 14.4 25.5)" fill="#1010f0" fill-opacity="0.21" stroke="#1010f0" stroke-opacity="0.95" stroke-width="1.98"/>
<circle cx="22.7" cy="26.1" r="4.50" fill="#0000c0" fill-opacity="0.27"/>
<ellipse cx="22.7" cy="26.1" rx="2.57" ry="2.20" transform="rotate(57 22.7 26.1)" fill="#1010f0" fill-opacity="0.21" stroke="#1010f0" stroke-opacity="0.95" stroke-width="1.86"/>
<circle cx="30.0" cy="26.5" r="4.20" fill="#0000c0" fill-opacity="0.24"/>
<ellipse cx="30.0" cy="26.5" rx="2.81" ry="2.66" transform="rotate(176 30.0 26.5)" fill="#1010f0" fill-opacity="0.85"/>
<circle cx="29.2" cy="27.0" r="1.26" fill="#3a3aff" fill-opacity="0.68"/>
<circle cx="35.5" cy="26.1" r="4.20" fill="#0000c0" fill-opacity="0.24"/>
<ellipse cx="35.5" cy="26.1" rx="2.44" ry="1.75" transform="rotate(66 35.5 26.1)" fill="#1010f0" fill-opacity="0.19" stroke="#1010f0" stroke-opacity="0.85" stroke-width="1.74"/>
<circle cx="42.9" cy="26.5" r="4.50" fill="#0000c0" fill-opacity="0.24"/>
<ellipse cx="42.9" cy="26.5" rx="3.57" ry="2.52" transform="rotate(33 42.9 26.5)" fill="#1010f0" fill-opacity="0.85"/>
<circle cx="43.6" cy="27.2" r="1.35" fill="#3a3aff" fill-opacity="0.68"/>
<circle cx="50.2" cy="28.3" r="4.50" fill="#0000c0" fill-opacity="0.22"/>
<ellipse cx="50.2" cy="28.3" rx="3.21" ry="2.71" transform="rotate(62 50.2 28.3)" fill="#1010f0" fill-opacity="0.80"/>
<circle cx="49.6" cy="28.7" r="1.35" fill="#3a3aff" fill-opacity="0.64"/>
<circle cx="29.0" cy="32.0" r="4.50" fill="#0000c0" fill-opacity="0.24"/>
<ellipse cx="29.0" cy="32.0" rx="3.52" ry="2.42" transform="rotate(144 29.0 32.0)" fill="#1010f0" fill-opacity="0.85"/>
<circle cx="28.3" cy="31.7" r="1.35" fill="#3a3aff" fill-opacity="0.68"/>
<circle cx="20.9" cy="35.6" r="4.50" fill="#0000c0" fill-opacity="0.24"/>
<ellipse cx="20.9" cy="35.6" rx="3.55" ry="2.60" transform="rotate(110 20.9 35.6)" fill="#1010f0" fill-opacity="0.85"/>
<circle cx="21.0" cy="35.3" r="1.35" fill="#3a3aff" fill-opacity="0.68"/>
<circle cx="34.6" cy="38.4" r="4.80" fill="#0000c0" fill-opacity="0.25"/>
<ellipse cx="34.6" cy="38.4" rx="2.58" ry="2.04" transform="rotate(57 34.6 38.4)" fill="#1010f0" fill-opacity="0.20" stroke="#1010f0" stroke-opacity="0.90" stroke-width="1.98"/>
<circle cx="49.3" cy="40.1" r="4.50" fill="#0000c0" fill-opacity="0.24"/>
<ellipse cx="49.3" cy="40.1" rx="2.81" ry="1.95" transform="rotate(124 49.3 40.1)" fill="#1010f0" fill-opacity="0.19" stroke="#1010f0" stroke-opacity="0.85" stroke-width="1.86"/>
<circle cx="3.4" cy="41.1" r="4.80" fill="#0000c0" fill-opacity="0.25"/>
<ellipse cx="3.4" cy="41.1" rx="2.76" ry="2.20" transform="rotate(178 3.4 41.1)" fill="#1010f0" fill-opacity="0.20" stroke="#1010f0" stroke-opacity="0.90" stroke-width="1.98"/>
<circle cx="13.5" cy="42.1" r="4.80" fill="#0000c0" fill-opacity="0.27"/>
<ellipse cx="13.5" cy="42.1" rx="2.91" ry="2.22" transform="rotate(107 13.5 42.1)" fill="#1010f0" fill-opacity="0.21" stroke="#1010f0" stroke-opacity="0.95" stroke-width="1.98"/>
<circle cx="24.5" cy="42.1" r="4.50" fill="#0000c0" fill-opacity="0.25"/>
<ellipse cx="24.5" cy="42.1" rx="2.77" ry="1.89" transform="rotate(10 24.5 42.1)" fill="#1010f0" fill-opacity="0.20" stroke="#1010f0" stroke-opacity="0.90" stroke-width="1.86"/>
<circle cx="42.0" cy="45.1" r="4.80" fill="#0000c0" fill-opacity="0.24"/>
<ellipse cx="42.0" cy="45.1" rx="3.28" ry="3.03" transform="rotate(151 42.0 45.1)" fill="#1010f0" fill-opacity="0.85"/>
<circle cx="42.2" cy="45.6" r="1.44" fill="#3a3aff" fill-opacity="0.68"/>
<circle cx="26.4" cy="48.5" r="4.80" fill="#0000c0" fill-opacity="0.27"/>
<ellipse cx="26.4" cy="48.5" rx="3.48" ry="2.66" transform="rotate(19 26.4 48.5)" fill="#1010f0" fill-opacity="0.95"/>
<circle cx="26.1" cy="48.4" r="1.44" fill="#3a3aff" fill-opacity="0.76"/>
<circle cx="52.0" cy="20.1" r="3.75" fill="#0000c0" fill-opacity="0.13"/>
<ellipse cx="52.0" cy="20.1" rx="2.28" ry="1.94" transform="rotate(180 52.0 20.1)" fill="#1010f0" fill-opacity="0.10" stroke="#1010f0" stroke-opacity="0.45" stroke-width="1.55"/>
</g>
</defs>
<g transform="translate(270.2 203.1)" clip-path="url(#cp)"><rect width="53.6" height="53.6" fill="#030000"/>
<use href="#r1"/>
</g>
<g transform="translate(325.2 203.1)" clip-path="url(#cp)"><rect width="53.6" height="53.6" fill="#000004"/>
<use href="#b1"/>
</g>
<g transform="translate(380.2 203.1)" clip-path="url(#cp)"><rect width="53.6" height="53.6" fill="#020004"/>
<use href="#b1"/>
<use href="#r1"/>
</g>
<g transform="translate(270.2 257.9)" clip-path="url(#cp)"><rect width="53.6" height="53.6" fill="#030000"/>
<use href="#r2"/>
</g>
<g transform="translate(325.2 257.9)" clip-path="url(#cp)"><rect width="53.6" height="53.6" fill="#000004"/>
<use href="#b2"/>
</g>
<g transform="translate(380.2 257.9)" clip-path="url(#cp)"><rect width="53.6" height="53.6" fill="#020004"/>
<use href="#b2"/>
<use href="#r2"/>
</g>
<line x1="471.20" y1="203.40" x2="471.20" y2="307.40" stroke="#555" stroke-width="0.8"/>
<line x1="471.20" y1="307.40" x2="500.00" y2="307.40" stroke="#555" stroke-width="0.8"/>
<line x1="469.40" y1="307.40" x2="471.20" y2="307.40" stroke="#555" stroke-width="0.7"/>
<text x="466.60" y="309.90" font-size="6.9" text-anchor="end" font-weight="normal" fill="#111" stroke="#111" stroke-width="0.22" >0</text>
<line x1="469.40" y1="292.54" x2="471.20" y2="292.54" stroke="#555" stroke-width="0.7"/>
<text x="466.60" y="295.04" font-size="6.9" text-anchor="end" font-weight="normal" fill="#111" stroke="#111" stroke-width="0.22" >5</text>
<line x1="469.40" y1="277.69" x2="471.20" y2="277.69" stroke="#555" stroke-width="0.7"/>
<text x="466.60" y="280.19" font-size="6.9" text-anchor="end" font-weight="normal" fill="#111" stroke="#111" stroke-width="0.22" >10</text>
<line x1="469.40" y1="262.83" x2="471.20" y2="262.83" stroke="#555" stroke-width="0.7"/>
<text x="466.60" y="265.33" font-size="6.9" text-anchor="end" font-weight="normal" fill="#111" stroke="#111" stroke-width="0.22" >15</text>
<line x1="469.40" y1="247.97" x2="471.20" y2="247.97" stroke="#555" stroke-width="0.7"/>
<text x="466.60" y="250.47" font-size="6.9" text-anchor="end" font-weight="normal" fill="#111" stroke="#111" stroke-width="0.22" >20</text>
<line x1="469.40" y1="233.11" x2="471.20" y2="233.11" stroke="#555" stroke-width="0.7"/>
<text x="466.60" y="235.61" font-size="6.9" text-anchor="end" font-weight="normal" fill="#111" stroke="#111" stroke-width="0.22" >25</text>
<line x1="469.40" y1="218.26" x2="471.20" y2="218.26" stroke="#555" stroke-width="0.7"/>
<text x="466.60" y="220.76" font-size="6.9" text-anchor="end" font-weight="normal" fill="#111" stroke="#111" stroke-width="0.22" >30</text>
<line x1="469.40" y1="203.40" x2="471.20" y2="203.40" stroke="#555" stroke-width="0.7"/>
<text x="466.60" y="205.90" font-size="6.9" text-anchor="end" font-weight="normal" fill="#111" stroke="#111" stroke-width="0.22" >35</text>
<line x1="482.30" y1="216.77" x2="482.30" y2="211.42" stroke="#444" stroke-width="0.5"/>
<line x1="480.80" y1="211.42" x2="483.80" y2="211.42" stroke="#444" stroke-width="0.5"/>
<rect x="479.8" y="216.77" width="5.00" height="90.63" fill="#fff" stroke="#444" stroke-width="0.6"/>
<line x1="482.30" y1="307.40" x2="482.30" y2="309.20" stroke="#555" stroke-width="0.7"/>
<line x1="493.50" y1="262.83" x2="493.50" y2="259.56" stroke="#444" stroke-width="0.5"/>
<line x1="492.00" y1="259.56" x2="495.00" y2="259.56" stroke="#444" stroke-width="0.5"/>
<rect x="491" y="262.83" width="5.00" height="44.57" fill="#000" stroke="#444" stroke-width="0.6"/>
<line x1="493.50" y1="307.40" x2="493.50" y2="309.20" stroke="#555" stroke-width="0.7"/>
<line x1="491.80" y1="254.80" x2="491.80" y2="257.00" stroke="#111" stroke-width="0.8"/>
<line x1="490.85" y1="255.35" x2="492.75" y2="256.45" stroke="#111" stroke-width="0.8"/>
<line x1="492.75" y1="255.35" x2="490.85" y2="256.45" stroke="#111" stroke-width="0.8"/>
<line x1="494.90" y1="254.80" x2="494.90" y2="257.00" stroke="#111" stroke-width="0.8"/>
<line x1="493.95" y1="255.35" x2="495.85" y2="256.45" stroke="#111" stroke-width="0.8"/>
<line x1="495.85" y1="255.35" x2="493.95" y2="256.45" stroke="#111" stroke-width="0.8"/>
<text x="479.40" y="318.50" font-size="9" text-anchor="middle" font-weight="bold" fill="#111" stroke="#111" stroke-width="0.3" transform="rotate(90 479.40 318.50)" >+/+</text>
<text x="490.40" y="318.30" font-size="9" text-anchor="middle" font-weight="bold" fill="#111" stroke="#111" stroke-width="0.3" transform="rotate(90 490.40 318.30)" >-/-</text>
<text x="453.50" y="253.60" font-size="9.5" text-anchor="middle" font-weight="normal" fill="#111" stroke="#111" stroke-width="0.3" transform="rotate(-90 453.50 253.60)" >% Phagocytosis</text>
</g>
</svg>
</body></html>
